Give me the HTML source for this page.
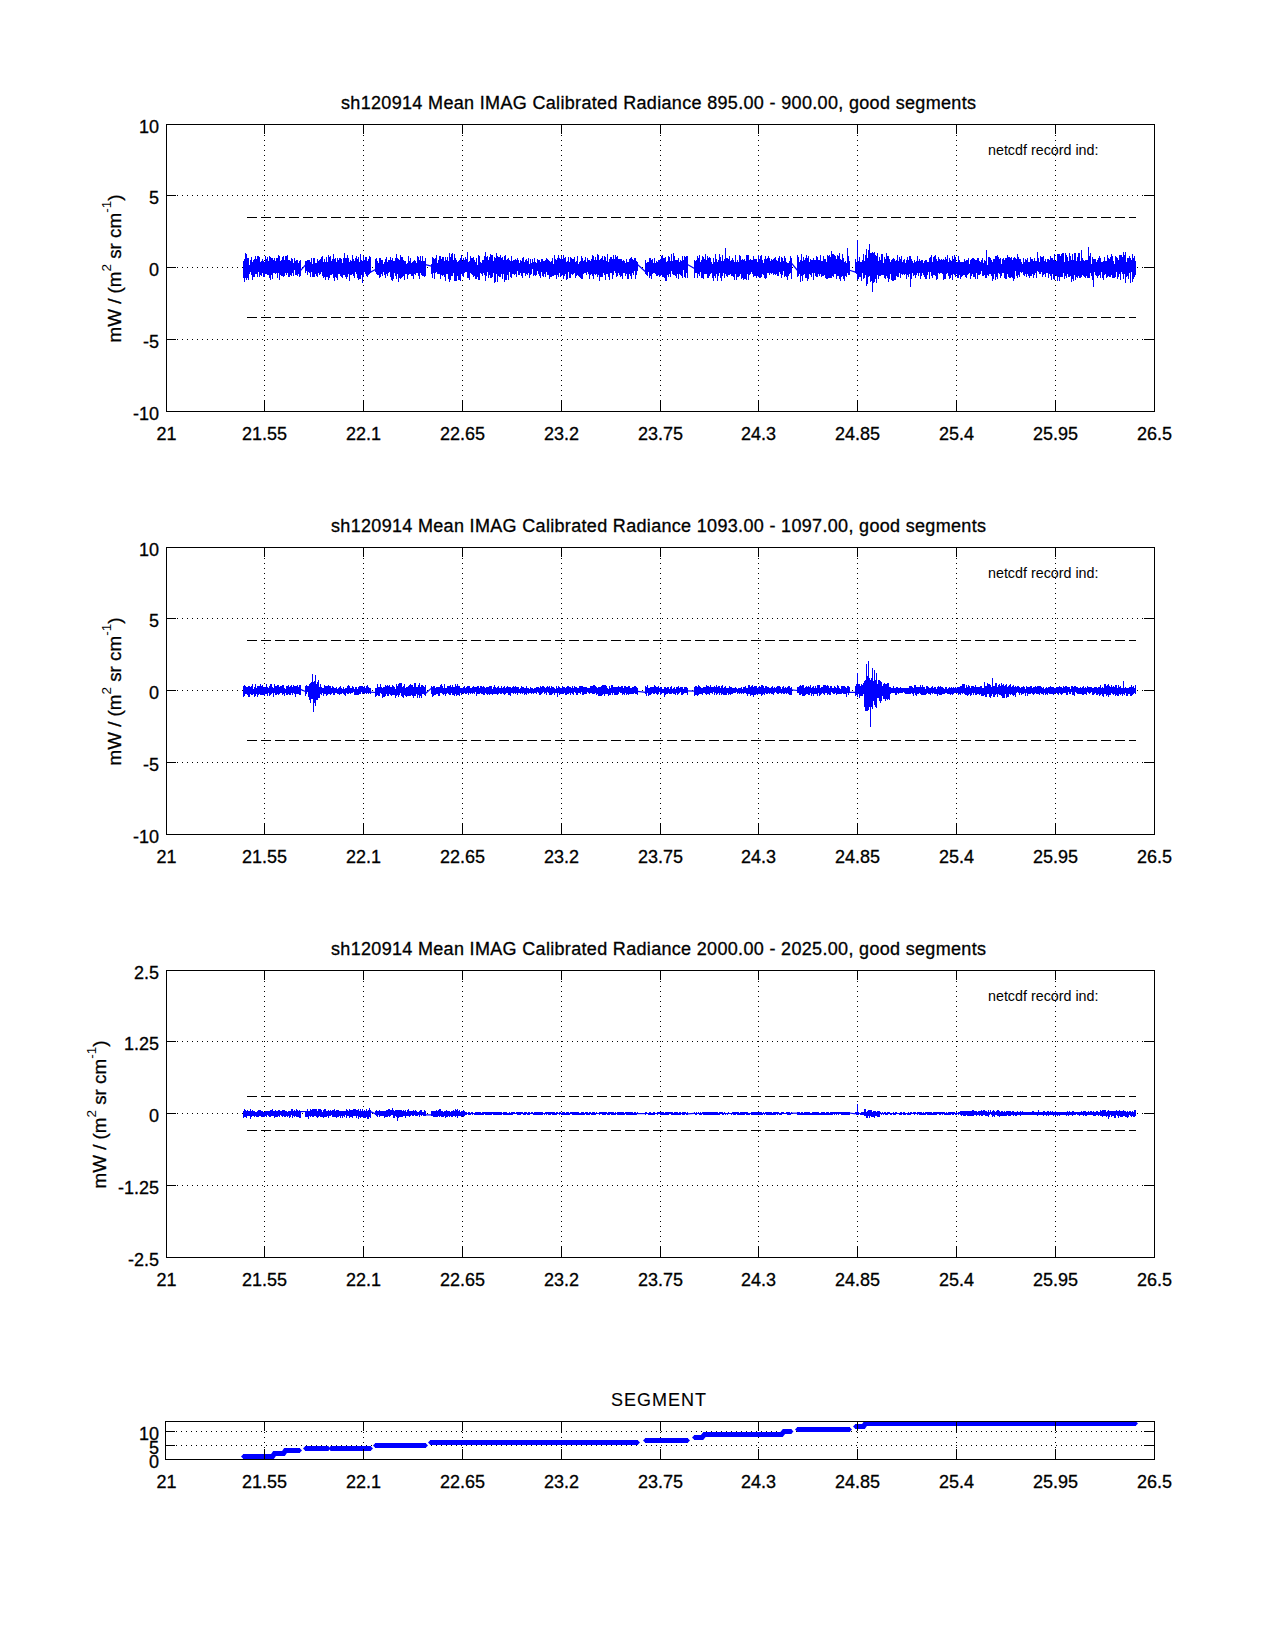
<!DOCTYPE html>
<html><head><meta charset="utf-8"><title>plot</title>
<style>
html,body{margin:0;padding:0;background:#fff;width:1275px;height:1650px;overflow:hidden}
svg{display:block}
text{font-family:"Liberation Sans",sans-serif;fill:#000;stroke:#000;stroke-width:0.3px}
</style></head><body>
<svg width="1275" height="1650" viewBox="0 0 1275 1650">
<rect x="0" y="0" width="1275" height="1650" fill="#fff"/>
<g stroke="#000" stroke-width="1" stroke-dasharray="1 4" shape-rendering="crispEdges">
<line x1="264.5" y1="125" x2="264.5" y2="411"/>
<line x1="363.5" y1="125" x2="363.5" y2="411"/>
<line x1="462.5" y1="125" x2="462.5" y2="411"/>
<line x1="561.5" y1="125" x2="561.5" y2="411"/>
<line x1="660.5" y1="125" x2="660.5" y2="411"/>
<line x1="758.5" y1="125" x2="758.5" y2="411"/>
<line x1="857.5" y1="125" x2="857.5" y2="411"/>
<line x1="956.5" y1="125" x2="956.5" y2="411"/>
<line x1="1055.5" y1="125" x2="1055.5" y2="411"/>
<line x1="167" y1="195.5" x2="1154" y2="195.5"/>
<line x1="167" y1="267.5" x2="1154" y2="267.5"/>
<line x1="167" y1="339.5" x2="1154" y2="339.5"/>
<line x1="264.5" y1="548" x2="264.5" y2="834"/>
<line x1="363.5" y1="548" x2="363.5" y2="834"/>
<line x1="462.5" y1="548" x2="462.5" y2="834"/>
<line x1="561.5" y1="548" x2="561.5" y2="834"/>
<line x1="660.5" y1="548" x2="660.5" y2="834"/>
<line x1="758.5" y1="548" x2="758.5" y2="834"/>
<line x1="857.5" y1="548" x2="857.5" y2="834"/>
<line x1="956.5" y1="548" x2="956.5" y2="834"/>
<line x1="1055.5" y1="548" x2="1055.5" y2="834"/>
<line x1="167" y1="618.5" x2="1154" y2="618.5"/>
<line x1="167" y1="690.5" x2="1154" y2="690.5"/>
<line x1="167" y1="762.5" x2="1154" y2="762.5"/>
<line x1="264.5" y1="971" x2="264.5" y2="1257"/>
<line x1="363.5" y1="971" x2="363.5" y2="1257"/>
<line x1="462.5" y1="971" x2="462.5" y2="1257"/>
<line x1="561.5" y1="971" x2="561.5" y2="1257"/>
<line x1="660.5" y1="971" x2="660.5" y2="1257"/>
<line x1="758.5" y1="971" x2="758.5" y2="1257"/>
<line x1="857.5" y1="971" x2="857.5" y2="1257"/>
<line x1="956.5" y1="971" x2="956.5" y2="1257"/>
<line x1="1055.5" y1="971" x2="1055.5" y2="1257"/>
<line x1="167" y1="1041.5" x2="1154" y2="1041.5"/>
<line x1="167" y1="1113.5" x2="1154" y2="1113.5"/>
<line x1="167" y1="1185.5" x2="1154" y2="1185.5"/>
<line x1="264.5" y1="1422" x2="264.5" y2="1459"/>
<line x1="363.5" y1="1422" x2="363.5" y2="1459"/>
<line x1="462.5" y1="1422" x2="462.5" y2="1459"/>
<line x1="561.5" y1="1422" x2="561.5" y2="1459"/>
<line x1="660.5" y1="1422" x2="660.5" y2="1459"/>
<line x1="758.5" y1="1422" x2="758.5" y2="1459"/>
<line x1="857.5" y1="1422" x2="857.5" y2="1459"/>
<line x1="956.5" y1="1422" x2="956.5" y2="1459"/>
<line x1="1055.5" y1="1422" x2="1055.5" y2="1459"/>
<line x1="166" y1="1431.5" x2="1154" y2="1431.5"/>
<line x1="166" y1="1445.5" x2="1154" y2="1445.5"/>
</g>
<g stroke="#000" stroke-width="1" stroke-dasharray="10 4" shape-rendering="crispEdges">
<line x1="247" y1="217.5" x2="1136" y2="217.5"/>
<line x1="247" y1="317.5" x2="1136" y2="317.5"/>
<line x1="247" y1="640.5" x2="1136" y2="640.5"/>
<line x1="247" y1="740.5" x2="1136" y2="740.5"/>
<line x1="247" y1="1096.5" x2="1136" y2="1096.5"/>
<line x1="247" y1="1130.5" x2="1136" y2="1130.5"/>
</g>
<path fill="#0000ff" shape-rendering="crispEdges" d="M243 261h1V278h-1zM244 259h1V282h-1zM245 253h1V278h-1zM246 254h1V280h-1zM247 258h1V278h-1zM248 258h1V280h-1zM249 265h1V274h-1zM250 260h1V272h-1zM251 257h1V275h-1zM252 262h1V280h-1zM253 260h1V277h-1zM254 259h1V277h-1zM255 256h1V274h-1zM256 259h1V274h-1zM257 256h1V277h-1zM258 256h1V272h-1zM259 257h1V277h-1zM260 262h1V275h-1zM261 261h1V276h-1zM262 259h1V273h-1zM263 261h1V277h-1zM264 262h1V277h-1zM265 256h1V274h-1zM266 259h1V274h-1zM267 257h1V275h-1zM268 261h1V275h-1zM269 256h1V278h-1zM270 257h1V280h-1zM271 258h1V275h-1zM272 258h1V279h-1zM273 260h1V273h-1zM274 258h1V273h-1zM275 261h1V274h-1zM276 258h1V273h-1zM277 258h1V278h-1zM278 255h1V273h-1zM279 256h1V280h-1zM280 261h1V275h-1zM281 260h1V276h-1zM282 257h1V276h-1zM283 256h1V277h-1zM284 260h1V276h-1zM285 256h1V273h-1zM286 256h1V275h-1zM287 255h1V273h-1zM288 260h1V277h-1zM289 260h1V277h-1zM290 261h1V275h-1zM291 258h1V276h-1zM292 259h1V273h-1zM293 263h1V276h-1zM294 258h1V270h-1zM295 261h1V275h-1zM296 260h1V275h-1zM297 260h1V276h-1zM298 263h1V274h-1zM299 261h1V277h-1zM300 260h1V276h-1zM305 261h1V273h-1zM306 261h1V271h-1zM307 260h1V275h-1zM308 260h1V272h-1zM309 260h1V273h-1zM310 262h1V277h-1zM311 258h1V272h-1zM312 264h1V277h-1zM313 258h1V277h-1zM314 258h1V277h-1zM315 263h1V274h-1zM316 263h1V276h-1zM317 259h1V277h-1zM318 261h1V273h-1zM319 260h1V275h-1zM320 259h1V274h-1zM321 257h1V272h-1zM322 256h1V276h-1zM323 262h1V278h-1zM324 259h1V277h-1zM325 262h1V280h-1zM326 257h1V277h-1zM327 262h1V277h-1zM328 255h1V280h-1zM329 257h1V278h-1zM330 256h1V275h-1zM331 261h1V275h-1zM332 259h1V274h-1zM333 254h1V278h-1zM334 259h1V281h-1zM335 258h1V277h-1zM336 262h1V278h-1zM337 258h1V280h-1zM338 260h1V274h-1zM339 258h1V274h-1zM340 258h1V276h-1zM341 259h1V277h-1zM342 263h1V278h-1zM343 258h1V275h-1zM344 253h1V275h-1zM345 258h1V277h-1zM346 258h1V279h-1zM347 255h1V277h-1zM348 258h1V274h-1zM349 262h1V281h-1zM350 260h1V275h-1zM351 261h1V275h-1zM352 255h1V274h-1zM353 259h1V276h-1zM354 261h1V278h-1zM355 258h1V272h-1zM356 256h1V274h-1zM357 259h1V278h-1zM358 257h1V280h-1zM359 262h1V279h-1zM360 254h1V279h-1zM361 260h1V275h-1zM362 261h1V283h-1zM363 256h1V277h-1zM364 260h1V272h-1zM365 257h1V274h-1zM366 257h1V276h-1zM367 261h1V277h-1zM368 259h1V275h-1zM369 256h1V274h-1zM370 257h1V273h-1zM375 259h1V272h-1zM376 258h1V274h-1zM377 261h1V275h-1zM378 263h1V275h-1zM379 258h1V278h-1zM380 258h1V277h-1zM381 260h1V274h-1zM382 260h1V276h-1zM383 264h1V272h-1zM384 262h1V275h-1zM385 259h1V278h-1zM386 257h1V274h-1zM387 262h1V276h-1zM388 260h1V273h-1zM389 260h1V272h-1zM390 257h1V277h-1zM391 260h1V280h-1zM392 258h1V281h-1zM393 261h1V279h-1zM394 261h1V273h-1zM395 258h1V276h-1zM396 254h1V279h-1zM397 258h1V274h-1zM398 259h1V282h-1zM399 260h1V278h-1zM400 255h1V279h-1zM401 257h1V278h-1zM402 257h1V277h-1zM403 260h1V276h-1zM404 261h1V280h-1zM405 261h1V274h-1zM406 264h1V274h-1zM407 263h1V279h-1zM408 256h1V275h-1zM409 261h1V274h-1zM410 258h1V274h-1zM411 263h1V276h-1zM412 262h1V276h-1zM413 261h1V279h-1zM414 260h1V274h-1zM415 261h1V275h-1zM416 263h1V273h-1zM417 256h1V273h-1zM418 257h1V276h-1zM419 260h1V279h-1zM420 256h1V273h-1zM421 261h1V275h-1zM422 256h1V276h-1zM423 261h1V276h-1zM424 261h1V277h-1zM425 258h1V276h-1zM431 264h1V274h-1zM432 257h1V278h-1zM433 258h1V273h-1zM434 259h1V279h-1zM435 258h1V273h-1zM436 255h1V272h-1zM437 263h1V274h-1zM438 260h1V274h-1zM439 256h1V274h-1zM440 256h1V279h-1zM441 259h1V275h-1zM442 257h1V276h-1zM443 257h1V275h-1zM444 261h1V277h-1zM445 257h1V281h-1zM446 260h1V274h-1zM447 257h1V274h-1zM448 261h1V279h-1zM449 253h1V282h-1zM450 257h1V280h-1zM451 254h1V276h-1zM452 253h1V276h-1zM453 260h1V273h-1zM454 254h1V281h-1zM455 258h1V281h-1zM456 260h1V281h-1zM457 262h1V276h-1zM458 261h1V280h-1zM459 260h1V280h-1zM460 258h1V281h-1zM461 255h1V274h-1zM462 261h1V276h-1zM463 258h1V277h-1zM464 260h1V273h-1zM465 257h1V272h-1zM466 259h1V272h-1zM467 252h1V278h-1zM468 262h1V278h-1zM469 261h1V280h-1zM470 256h1V273h-1zM471 258h1V274h-1zM472 258h1V275h-1zM473 257h1V277h-1zM474 260h1V276h-1zM475 262h1V279h-1zM476 258h1V279h-1zM477 265h1V277h-1zM478 255h1V280h-1zM479 256h1V280h-1zM480 262h1V273h-1zM481 263h1V274h-1zM482 260h1V276h-1zM483 260h1V273h-1zM484 256h1V275h-1zM485 252h1V281h-1zM486 257h1V276h-1zM487 256h1V272h-1zM488 260h1V278h-1zM489 257h1V275h-1zM490 254h1V278h-1zM491 255h1V278h-1zM492 255h1V277h-1zM493 261h1V273h-1zM494 257h1V283h-1zM495 258h1V282h-1zM496 253h1V274h-1zM497 256h1V282h-1zM498 257h1V276h-1zM499 257h1V277h-1zM500 255h1V277h-1zM501 258h1V274h-1zM502 257h1V279h-1zM503 260h1V274h-1zM504 256h1V282h-1zM505 255h1V280h-1zM506 260h1V280h-1zM507 259h1V275h-1zM508 258h1V280h-1zM509 260h1V272h-1zM510 261h1V277h-1zM511 256h1V278h-1zM512 261h1V274h-1zM513 260h1V274h-1zM514 260h1V275h-1zM515 259h1V274h-1zM516 260h1V277h-1zM517 258h1V271h-1zM518 260h1V275h-1zM519 263h1V275h-1zM520 260h1V273h-1zM521 261h1V276h-1zM522 258h1V278h-1zM523 257h1V273h-1zM524 262h1V273h-1zM525 260h1V276h-1zM526 259h1V274h-1zM527 261h1V275h-1zM528 258h1V273h-1zM529 264h1V278h-1zM530 259h1V275h-1zM531 263h1V274h-1zM532 259h1V269h-1zM533 262h1V276h-1zM534 258h1V275h-1zM535 262h1V276h-1zM536 263h1V275h-1zM537 259h1V271h-1zM538 260h1V274h-1zM539 260h1V276h-1zM540 262h1V278h-1zM541 259h1V272h-1zM542 259h1V276h-1zM543 261h1V277h-1zM544 261h1V274h-1zM545 260h1V277h-1zM546 258h1V272h-1zM547 259h1V275h-1zM548 260h1V275h-1zM549 261h1V279h-1zM550 262h1V277h-1zM551 261h1V277h-1zM552 258h1V276h-1zM553 264h1V276h-1zM554 255h1V275h-1zM555 259h1V275h-1zM556 260h1V279h-1zM557 258h1V275h-1zM558 255h1V277h-1zM559 258h1V273h-1zM560 259h1V277h-1zM561 256h1V276h-1zM562 259h1V275h-1zM563 255h1V279h-1zM564 258h1V276h-1zM565 257h1V274h-1zM566 262h1V280h-1zM567 261h1V279h-1zM568 257h1V272h-1zM569 262h1V278h-1zM570 257h1V278h-1zM571 258h1V274h-1zM572 259h1V275h-1zM573 259h1V274h-1zM574 257h1V273h-1zM575 262h1V278h-1zM576 261h1V276h-1zM577 256h1V275h-1zM578 264h1V276h-1zM579 262h1V277h-1zM580 261h1V278h-1zM581 256h1V279h-1zM582 258h1V279h-1zM583 261h1V274h-1zM584 260h1V273h-1zM585 257h1V273h-1zM586 262h1V275h-1zM587 258h1V272h-1zM588 260h1V274h-1zM589 260h1V279h-1zM590 261h1V275h-1zM591 259h1V274h-1zM592 255h1V276h-1zM593 256h1V279h-1zM594 260h1V274h-1zM595 257h1V275h-1zM596 260h1V274h-1zM597 254h1V277h-1zM598 255h1V275h-1zM599 260h1V281h-1zM600 259h1V277h-1zM601 258h1V277h-1zM602 256h1V277h-1zM603 260h1V273h-1zM604 256h1V275h-1zM605 257h1V280h-1zM606 261h1V274h-1zM607 254h1V274h-1zM608 262h1V277h-1zM609 259h1V280h-1zM610 257h1V273h-1zM611 257h1V273h-1zM612 259h1V279h-1zM613 255h1V275h-1zM614 259h1V271h-1zM615 255h1V273h-1zM616 257h1V277h-1zM617 256h1V276h-1zM618 259h1V273h-1zM619 259h1V275h-1zM620 259h1V277h-1zM621 259h1V276h-1zM622 261h1V279h-1zM623 260h1V273h-1zM624 261h1V273h-1zM625 263h1V276h-1zM626 259h1V274h-1zM627 262h1V279h-1zM628 262h1V279h-1zM629 259h1V274h-1zM630 258h1V276h-1zM631 257h1V279h-1zM632 259h1V273h-1zM633 260h1V275h-1zM634 258h1V271h-1zM635 258h1V279h-1zM636 261h1V275h-1zM637 262h1V271h-1zM645 260h1V274h-1zM646 263h1V275h-1zM647 262h1V276h-1zM648 262h1V272h-1zM649 258h1V278h-1zM650 258h1V276h-1zM651 260h1V279h-1zM652 259h1V274h-1zM653 263h1V273h-1zM654 258h1V273h-1zM655 263h1V274h-1zM656 261h1V276h-1zM657 262h1V276h-1zM658 260h1V275h-1zM659 260h1V277h-1zM660 259h1V276h-1zM661 256h1V275h-1zM662 255h1V277h-1zM663 258h1V277h-1zM664 258h1V278h-1zM665 257h1V281h-1zM666 262h1V281h-1zM667 261h1V275h-1zM668 256h1V277h-1zM669 257h1V274h-1zM670 261h1V277h-1zM671 254h1V271h-1zM672 261h1V274h-1zM673 253h1V275h-1zM674 256h1V275h-1zM675 260h1V276h-1zM676 260h1V278h-1zM677 260h1V274h-1zM678 258h1V279h-1zM679 262h1V274h-1zM680 260h1V275h-1zM681 261h1V276h-1zM682 256h1V278h-1zM683 260h1V270h-1zM684 256h1V277h-1zM685 257h1V278h-1zM686 256h1V273h-1zM687 256h1V278h-1zM694 260h1V278h-1zM695 261h1V273h-1zM696 260h1V273h-1zM697 256h1V278h-1zM698 258h1V274h-1zM699 255h1V276h-1zM700 262h1V272h-1zM701 260h1V278h-1zM702 256h1V278h-1zM703 257h1V279h-1zM704 259h1V274h-1zM705 254h1V274h-1zM706 260h1V274h-1zM707 256h1V278h-1zM708 258h1V278h-1zM709 257h1V276h-1zM710 258h1V274h-1zM711 262h1V273h-1zM712 264h1V278h-1zM713 258h1V281h-1zM714 262h1V276h-1zM715 254h1V278h-1zM716 259h1V274h-1zM717 262h1V281h-1zM718 260h1V276h-1zM719 254h1V273h-1zM720 257h1V278h-1zM721 261h1V281h-1zM722 255h1V276h-1zM723 261h1V273h-1zM724 259h1V278h-1zM725 248h1V274h-1zM726 258h1V276h-1zM727 258h1V277h-1zM728 259h1V275h-1zM729 256h1V275h-1zM730 261h1V274h-1zM731 260h1V276h-1zM732 258h1V276h-1zM733 260h1V277h-1zM734 262h1V280h-1zM735 255h1V274h-1zM736 262h1V280h-1zM737 260h1V277h-1zM738 262h1V277h-1zM739 255h1V276h-1zM740 256h1V274h-1zM741 260h1V279h-1zM742 259h1V278h-1zM743 260h1V280h-1zM744 259h1V279h-1zM745 261h1V279h-1zM746 255h1V280h-1zM747 255h1V274h-1zM748 255h1V280h-1zM749 260h1V275h-1zM750 259h1V274h-1zM751 260h1V272h-1zM752 260h1V274h-1zM753 256h1V277h-1zM754 259h1V276h-1zM755 259h1V276h-1zM756 259h1V278h-1zM757 262h1V276h-1zM758 255h1V277h-1zM759 259h1V278h-1zM760 256h1V278h-1zM761 255h1V277h-1zM762 260h1V274h-1zM763 263h1V275h-1zM764 259h1V278h-1zM765 256h1V279h-1zM766 259h1V278h-1zM767 258h1V273h-1zM768 256h1V273h-1zM769 258h1V275h-1zM770 261h1V273h-1zM771 259h1V274h-1zM772 260h1V273h-1zM773 259h1V275h-1zM774 258h1V274h-1zM775 257h1V275h-1zM776 260h1V274h-1zM777 261h1V276h-1zM778 258h1V276h-1zM779 256h1V272h-1zM780 262h1V274h-1zM781 257h1V278h-1zM782 258h1V275h-1zM783 261h1V271h-1zM784 256h1V277h-1zM785 258h1V276h-1zM786 262h1V277h-1zM787 263h1V280h-1zM788 263h1V276h-1zM789 261h1V274h-1zM790 256h1V273h-1zM791 258h1V279h-1zM797 255h1V277h-1zM798 257h1V276h-1zM799 262h1V274h-1zM800 260h1V282h-1zM801 254h1V276h-1zM802 261h1V281h-1zM803 257h1V275h-1zM804 260h1V274h-1zM805 258h1V278h-1zM806 255h1V278h-1zM807 258h1V281h-1zM808 256h1V279h-1zM809 262h1V274h-1zM810 259h1V275h-1zM811 260h1V277h-1zM812 260h1V273h-1zM813 258h1V280h-1zM814 260h1V273h-1zM815 260h1V276h-1zM816 256h1V277h-1zM817 257h1V277h-1zM818 260h1V274h-1zM819 260h1V276h-1zM820 255h1V274h-1zM821 261h1V277h-1zM822 261h1V276h-1zM823 256h1V276h-1zM824 259h1V275h-1zM825 259h1V278h-1zM826 262h1V279h-1zM827 255h1V279h-1zM828 256h1V278h-1zM829 255h1V278h-1zM830 257h1V278h-1zM831 251h1V278h-1zM832 254h1V276h-1zM833 254h1V277h-1zM834 255h1V274h-1zM835 256h1V274h-1zM836 259h1V279h-1zM837 255h1V276h-1zM838 256h1V276h-1zM839 253h1V279h-1zM840 259h1V281h-1zM841 260h1V277h-1zM842 254h1V276h-1zM843 258h1V279h-1zM844 262h1V281h-1zM845 261h1V276h-1zM846 263h1V277h-1zM847 248h1V273h-1zM848 256h1V275h-1zM849 261h1V275h-1zM855 259h1V273h-1zM856 262h1V274h-1zM857 240h1V280h-1zM858 261h1V279h-1zM859 257h1V277h-1zM860 262h1V277h-1zM861 262h1V281h-1zM862 260h1V273h-1zM863 254h1V279h-1zM864 261h1V278h-1zM865 255h1V275h-1zM866 249h1V286h-1zM867 258h1V284h-1zM868 250h1V277h-1zM869 244h1V276h-1zM870 253h1V282h-1zM871 253h1V281h-1zM872 252h1V292h-1zM873 253h1V283h-1zM874 252h1V282h-1zM875 255h1V279h-1zM876 256h1V283h-1zM877 253h1V275h-1zM878 261h1V279h-1zM879 257h1V276h-1zM880 260h1V276h-1zM881 254h1V275h-1zM882 254h1V275h-1zM883 263h1V275h-1zM884 257h1V278h-1zM885 259h1V279h-1zM886 253h1V276h-1zM887 256h1V278h-1zM888 256h1V282h-1zM889 259h1V279h-1zM890 262h1V274h-1zM891 260h1V280h-1zM892 259h1V281h-1zM893 258h1V281h-1zM894 259h1V280h-1zM895 261h1V280h-1zM896 260h1V276h-1zM897 255h1V277h-1zM898 261h1V277h-1zM899 257h1V273h-1zM900 259h1V278h-1zM901 256h1V274h-1zM902 262h1V275h-1zM903 260h1V274h-1zM904 259h1V275h-1zM905 263h1V274h-1zM906 260h1V279h-1zM907 257h1V275h-1zM908 260h1V277h-1zM909 256h1V274h-1zM910 256h1V287h-1zM911 259h1V279h-1zM912 261h1V273h-1zM913 263h1V276h-1zM914 260h1V275h-1zM915 262h1V278h-1zM916 261h1V275h-1zM917 256h1V273h-1zM918 261h1V276h-1zM919 259h1V273h-1zM920 261h1V279h-1zM921 260h1V276h-1zM922 260h1V273h-1zM923 263h1V275h-1zM924 261h1V277h-1zM925 260h1V279h-1zM926 260h1V279h-1zM927 262h1V275h-1zM928 262h1V272h-1zM929 258h1V279h-1zM930 257h1V272h-1zM931 255h1V276h-1zM932 262h1V278h-1zM933 257h1V275h-1zM934 256h1V275h-1zM935 255h1V276h-1zM936 259h1V280h-1zM937 261h1V279h-1zM938 257h1V273h-1zM939 259h1V274h-1zM940 260h1V273h-1zM941 259h1V273h-1zM942 260h1V274h-1zM943 259h1V280h-1zM944 260h1V279h-1zM945 257h1V279h-1zM946 259h1V274h-1zM947 255h1V273h-1zM948 262h1V276h-1zM949 258h1V279h-1zM950 260h1V278h-1zM951 261h1V275h-1zM952 256h1V280h-1zM953 259h1V274h-1zM954 255h1V275h-1zM955 257h1V277h-1zM956 262h1V274h-1zM957 262h1V278h-1zM958 256h1V278h-1zM959 260h1V275h-1zM960 262h1V279h-1zM961 262h1V277h-1zM962 262h1V276h-1zM963 262h1V275h-1zM964 259h1V275h-1zM965 261h1V277h-1zM966 260h1V278h-1zM967 260h1V275h-1zM968 258h1V274h-1zM969 264h1V273h-1zM970 260h1V279h-1zM971 259h1V276h-1zM972 258h1V274h-1zM973 258h1V277h-1zM974 259h1V277h-1zM975 260h1V279h-1zM976 260h1V273h-1zM977 258h1V279h-1zM978 258h1V275h-1zM979 261h1V275h-1zM980 262h1V274h-1zM981 260h1V271h-1zM982 258h1V276h-1zM983 263h1V276h-1zM984 260h1V275h-1zM985 261h1V278h-1zM986 250h1V278h-1zM987 265h1V275h-1zM988 257h1V276h-1zM989 257h1V274h-1zM990 258h1V274h-1zM991 260h1V276h-1zM992 262h1V281h-1zM993 259h1V279h-1zM994 259h1V274h-1zM995 256h1V280h-1zM996 256h1V277h-1zM997 255h1V279h-1zM998 257h1V273h-1zM999 259h1V274h-1zM1000 258h1V278h-1zM1001 264h1V276h-1zM1002 259h1V273h-1zM1003 258h1V273h-1zM1004 260h1V278h-1zM1005 258h1V279h-1zM1006 258h1V279h-1zM1007 255h1V274h-1zM1008 257h1V277h-1zM1009 257h1V278h-1zM1010 258h1V278h-1zM1011 257h1V277h-1zM1012 260h1V278h-1zM1013 258h1V281h-1zM1014 257h1V279h-1zM1015 258h1V271h-1zM1016 259h1V276h-1zM1017 254h1V278h-1zM1018 257h1V275h-1zM1019 259h1V277h-1zM1020 259h1V272h-1zM1021 262h1V273h-1zM1022 264h1V272h-1zM1023 258h1V275h-1zM1024 262h1V276h-1zM1025 259h1V274h-1zM1026 260h1V277h-1zM1027 258h1V274h-1zM1028 262h1V276h-1zM1029 262h1V278h-1zM1030 257h1V276h-1zM1031 259h1V276h-1zM1032 259h1V274h-1zM1033 261h1V278h-1zM1034 258h1V275h-1zM1035 261h1V273h-1zM1036 261h1V278h-1zM1037 252h1V271h-1zM1038 258h1V272h-1zM1039 262h1V274h-1zM1040 256h1V274h-1zM1041 257h1V272h-1zM1042 257h1V277h-1zM1043 256h1V275h-1zM1044 261h1V274h-1zM1045 259h1V277h-1zM1046 262h1V273h-1zM1047 259h1V273h-1zM1048 259h1V278h-1zM1049 260h1V274h-1zM1050 256h1V276h-1zM1051 258h1V280h-1zM1052 258h1V274h-1zM1053 260h1V279h-1zM1054 254h1V280h-1zM1055 261h1V275h-1zM1056 261h1V276h-1zM1057 254h1V281h-1zM1058 254h1V277h-1zM1059 254h1V281h-1zM1060 256h1V277h-1zM1061 254h1V277h-1zM1062 253h1V277h-1zM1063 253h1V273h-1zM1064 262h1V279h-1zM1065 253h1V276h-1zM1066 255h1V278h-1zM1067 257h1V274h-1zM1068 261h1V277h-1zM1069 253h1V277h-1zM1070 256h1V276h-1zM1071 260h1V282h-1zM1072 254h1V279h-1zM1073 260h1V281h-1zM1074 253h1V275h-1zM1075 253h1V280h-1zM1076 261h1V277h-1zM1077 257h1V278h-1zM1078 253h1V276h-1zM1079 253h1V278h-1zM1080 261h1V278h-1zM1081 250h1V277h-1zM1082 258h1V275h-1zM1083 260h1V276h-1zM1084 261h1V277h-1zM1085 260h1V278h-1zM1086 260h1V276h-1zM1087 260h1V278h-1zM1088 247h1V278h-1zM1089 256h1V278h-1zM1090 253h1V273h-1zM1091 264h1V276h-1zM1092 257h1V280h-1zM1093 259h1V287h-1zM1094 259h1V272h-1zM1095 259h1V275h-1zM1096 262h1V276h-1zM1097 260h1V278h-1zM1098 258h1V276h-1zM1099 256h1V275h-1zM1100 258h1V278h-1zM1101 262h1V272h-1zM1102 262h1V278h-1zM1103 261h1V280h-1zM1104 257h1V275h-1zM1105 261h1V274h-1zM1106 261h1V278h-1zM1107 255h1V277h-1zM1108 258h1V276h-1zM1109 259h1V277h-1zM1110 257h1V277h-1zM1111 254h1V275h-1zM1112 256h1V278h-1zM1113 261h1V278h-1zM1114 264h1V278h-1zM1115 256h1V277h-1zM1116 257h1V272h-1zM1117 258h1V279h-1zM1118 260h1V277h-1zM1119 255h1V274h-1zM1120 255h1V280h-1zM1121 255h1V272h-1zM1122 257h1V274h-1zM1123 252h1V279h-1zM1124 255h1V274h-1zM1125 252h1V283h-1zM1126 262h1V277h-1zM1127 258h1V276h-1zM1128 258h1V279h-1zM1129 256h1V273h-1zM1130 258h1V283h-1zM1131 260h1V272h-1zM1132 254h1V282h-1zM1133 258h1V279h-1zM1134 256h1V277h-1zM1135 261h1V275h-1z"/>
<line x1="300.5" y1="270.7" x2="305.5" y2="264.9" stroke="#0000ff" stroke-width="1.2"/>
<line x1="370.5" y1="272.1" x2="375.5" y2="269.5" stroke="#0000ff" stroke-width="1.2"/>
<line x1="425.5" y1="264.6" x2="431.5" y2="266.2" stroke="#0000ff" stroke-width="1.2"/>
<line x1="637.5" y1="264.5" x2="645.5" y2="271.7" stroke="#0000ff" stroke-width="1.2"/>
<line x1="687.5" y1="264.5" x2="694.5" y2="268.4" stroke="#0000ff" stroke-width="1.2"/>
<line x1="791.5" y1="263.2" x2="797.5" y2="270.5" stroke="#0000ff" stroke-width="1.2"/>
<line x1="849.5" y1="270.3" x2="855.5" y2="272.1" stroke="#0000ff" stroke-width="1.2"/>
<line x1="863.5" y1="273.3" x2="864.5" y2="272.4" stroke="#0000ff" stroke-width="1.2"/>
<path fill="#0000ff" shape-rendering="crispEdges" d="M243 686h1V697h-1zM244 685h1V696h-1zM245 686h1V694h-1zM246 687h1V694h-1zM247 687h1V695h-1zM248 686h1V697h-1zM249 686h1V697h-1zM250 687h1V694h-1zM251 686h1V695h-1zM252 684h1V695h-1zM253 689h1V694h-1zM254 687h1V697h-1zM255 684h1V696h-1zM256 688h1V694h-1zM257 686h1V697h-1zM258 686h1V695h-1zM259 686h1V694h-1zM260 684h1V695h-1zM261 686h1V695h-1zM262 685h1V695h-1zM263 687h1V695h-1zM264 687h1V696h-1zM265 687h1V694h-1zM266 684h1V694h-1zM267 687h1V696h-1zM268 688h1V693h-1zM269 686h1V696h-1zM270 684h1V695h-1zM271 684h1V694h-1zM272 687h1V693h-1zM273 688h1V697h-1zM274 684h1V693h-1zM275 686h1V695h-1zM276 686h1V695h-1zM277 685h1V694h-1zM278 685h1V695h-1zM279 687h1V694h-1zM280 686h1V693h-1zM281 686h1V693h-1zM282 685h1V695h-1zM283 685h1V694h-1zM284 688h1V696h-1zM285 689h1V693h-1zM286 686h1V695h-1zM287 686h1V695h-1zM288 685h1V694h-1zM289 687h1V695h-1zM290 686h1V695h-1zM291 685h1V693h-1zM292 687h1V695h-1zM293 685h1V693h-1zM294 686h1V694h-1zM295 686h1V697h-1zM296 686h1V694h-1zM297 685h1V694h-1zM298 687h1V694h-1zM299 685h1V695h-1zM300 685h1V695h-1zM305 686h1V696h-1zM306 685h1V694h-1zM307 686h1V692h-1zM308 686h1V697h-1zM309 684h1V700h-1zM310 683h1V703h-1zM311 682h1V699h-1zM312 674h1V699h-1zM313 682h1V712h-1zM314 681h1V703h-1zM315 675h1V706h-1zM316 684h1V700h-1zM317 682h1V700h-1zM318 680h1V698h-1zM319 687h1V698h-1zM320 684h1V694h-1zM321 687h1V695h-1zM322 688h1V693h-1zM323 688h1V696h-1zM324 685h1V694h-1zM325 686h1V694h-1zM326 686h1V696h-1zM327 686h1V695h-1zM328 685h1V694h-1zM329 686h1V694h-1zM330 686h1V695h-1zM331 688h1V694h-1zM332 686h1V693h-1zM333 687h1V695h-1zM334 688h1V695h-1zM335 688h1V693h-1zM336 687h1V693h-1zM337 689h1V694h-1zM338 688h1V694h-1zM339 687h1V695h-1zM340 686h1V694h-1zM341 688h1V694h-1zM342 689h1V693h-1zM343 687h1V694h-1zM344 689h1V695h-1zM345 688h1V696h-1zM346 688h1V693h-1zM347 686h1V694h-1zM348 685h1V694h-1zM349 686h1V693h-1zM350 688h1V694h-1zM351 688h1V693h-1zM352 686h1V693h-1zM353 687h1V692h-1zM354 689h1V695h-1zM355 687h1V695h-1zM356 687h1V695h-1zM357 689h1V695h-1zM358 687h1V695h-1zM359 686h1V694h-1zM360 686h1V694h-1zM361 686h1V692h-1zM362 686h1V694h-1zM363 687h1V693h-1zM364 686h1V694h-1zM365 688h1V693h-1zM366 686h1V694h-1zM367 685h1V693h-1zM368 687h1V694h-1zM369 688h1V693h-1zM370 688h1V694h-1zM375 688h1V697h-1zM376 688h1V696h-1zM377 684h1V695h-1zM378 687h1V696h-1zM379 687h1V696h-1zM380 684h1V693h-1zM381 687h1V694h-1zM382 688h1V698h-1zM383 687h1V697h-1zM384 687h1V697h-1zM385 685h1V696h-1zM386 686h1V694h-1zM387 685h1V696h-1zM388 686h1V696h-1zM389 685h1V694h-1zM390 687h1V695h-1zM391 687h1V696h-1zM392 685h1V695h-1zM393 686h1V695h-1zM394 687h1V695h-1zM395 689h1V698h-1zM396 684h1V696h-1zM397 686h1V695h-1zM398 684h1V697h-1zM399 683h1V695h-1zM400 683h1V693h-1zM401 683h1V696h-1zM402 687h1V697h-1zM403 686h1V698h-1zM404 684h1V695h-1zM405 688h1V696h-1zM406 687h1V697h-1zM407 687h1V696h-1zM408 686h1V696h-1zM409 685h1V696h-1zM410 684h1V696h-1zM411 685h1V695h-1zM412 685h1V696h-1zM413 687h1V698h-1zM414 683h1V696h-1zM415 683h1V696h-1zM416 687h1V694h-1zM417 687h1V698h-1zM418 685h1V695h-1zM419 683h1V698h-1zM420 687h1V696h-1zM421 685h1V698h-1zM422 685h1V694h-1zM423 686h1V694h-1zM424 687h1V695h-1zM425 685h1V696h-1zM431 686h1V694h-1zM432 687h1V697h-1zM433 686h1V696h-1zM434 686h1V695h-1zM435 688h1V695h-1zM436 687h1V694h-1zM437 687h1V694h-1zM438 687h1V696h-1zM439 687h1V696h-1zM440 685h1V693h-1zM441 684h1V693h-1zM442 686h1V694h-1zM443 688h1V695h-1zM444 684h1V694h-1zM445 688h1V696h-1zM446 688h1V694h-1zM447 686h1V693h-1zM448 686h1V694h-1zM449 686h1V695h-1zM450 685h1V695h-1zM451 687h1V693h-1zM452 685h1V695h-1zM453 687h1V695h-1zM454 687h1V696h-1zM455 684h1V694h-1zM456 686h1V696h-1zM457 684h1V695h-1zM458 686h1V695h-1zM459 686h1V696h-1zM460 688h1V693h-1zM461 688h1V695h-1zM462 688h1V693h-1zM463 687h1V694h-1zM464 686h1V693h-1zM465 688h1V694h-1zM466 687h1V694h-1zM467 686h1V693h-1zM468 686h1V695h-1zM469 686h1V693h-1zM470 688h1V694h-1zM471 688h1V693h-1zM472 687h1V694h-1zM473 686h1V693h-1zM474 687h1V694h-1zM475 687h1V692h-1zM476 687h1V696h-1zM477 686h1V694h-1zM478 686h1V694h-1zM479 688h1V694h-1zM480 686h1V693h-1zM481 686h1V694h-1zM482 687h1V694h-1zM483 686h1V695h-1zM484 687h1V695h-1zM485 688h1V693h-1zM486 687h1V694h-1zM487 687h1V695h-1zM488 687h1V694h-1zM489 686h1V695h-1zM490 686h1V694h-1zM491 686h1V694h-1zM492 689h1V695h-1zM493 687h1V694h-1zM494 685h1V694h-1zM495 687h1V694h-1zM496 688h1V694h-1zM497 687h1V695h-1zM498 686h1V694h-1zM499 688h1V693h-1zM500 688h1V694h-1zM501 686h1V694h-1zM502 688h1V693h-1zM503 687h1V694h-1zM504 686h1V695h-1zM505 688h1V694h-1zM506 687h1V693h-1zM507 686h1V693h-1zM508 687h1V695h-1zM509 687h1V695h-1zM510 687h1V696h-1zM511 688h1V693h-1zM512 687h1V693h-1zM513 686h1V694h-1zM514 687h1V693h-1zM515 686h1V694h-1zM516 687h1V693h-1zM517 687h1V695h-1zM518 687h1V693h-1zM519 689h1V693h-1zM520 688h1V694h-1zM521 686h1V693h-1zM522 687h1V694h-1zM523 687h1V693h-1zM524 688h1V695h-1zM525 688h1V694h-1zM526 686h1V695h-1zM527 688h1V693h-1zM528 688h1V694h-1zM529 689h1V693h-1zM530 687h1V693h-1zM531 688h1V694h-1zM532 688h1V693h-1zM533 689h1V694h-1zM534 688h1V693h-1zM535 688h1V693h-1zM536 687h1V694h-1zM537 687h1V692h-1zM538 687h1V693h-1zM539 688h1V695h-1zM540 686h1V695h-1zM541 687h1V694h-1zM542 686h1V693h-1zM543 686h1V692h-1zM544 687h1V694h-1zM545 688h1V693h-1zM546 687h1V695h-1zM547 686h1V692h-1zM548 687h1V693h-1zM549 686h1V695h-1zM550 688h1V695h-1zM551 686h1V695h-1zM552 687h1V694h-1zM553 687h1V693h-1zM554 688h1V695h-1zM555 689h1V693h-1zM556 686h1V693h-1zM557 688h1V697h-1zM558 686h1V693h-1zM559 687h1V695h-1zM560 688h1V694h-1zM561 688h1V694h-1zM562 686h1V694h-1zM563 687h1V694h-1zM564 687h1V693h-1zM565 688h1V695h-1zM566 687h1V695h-1zM567 686h1V694h-1zM568 686h1V694h-1zM569 687h1V693h-1zM570 687h1V695h-1zM571 688h1V693h-1zM572 686h1V694h-1zM573 688h1V695h-1zM574 686h1V692h-1zM575 687h1V693h-1zM576 687h1V695h-1zM577 688h1V695h-1zM578 688h1V693h-1zM579 686h1V693h-1zM580 686h1V694h-1zM581 686h1V692h-1zM582 686h1V695h-1zM583 687h1V695h-1zM584 687h1V694h-1zM585 687h1V694h-1zM586 687h1V694h-1zM587 688h1V692h-1zM588 688h1V693h-1zM589 688h1V694h-1zM590 686h1V693h-1zM591 686h1V693h-1zM592 686h1V694h-1zM593 685h1V694h-1zM594 685h1V694h-1zM595 686h1V693h-1zM596 687h1V695h-1zM597 688h1V694h-1zM598 687h1V696h-1zM599 687h1V696h-1zM600 687h1V696h-1zM601 686h1V696h-1zM602 685h1V695h-1zM603 685h1V694h-1zM604 685h1V696h-1zM605 685h1V694h-1zM606 686h1V694h-1zM607 688h1V694h-1zM608 689h1V696h-1zM609 686h1V695h-1zM610 688h1V695h-1zM611 685h1V693h-1zM612 685h1V695h-1zM613 687h1V693h-1zM614 687h1V695h-1zM615 687h1V695h-1zM616 687h1V695h-1zM617 687h1V695h-1zM618 686h1V694h-1zM619 687h1V692h-1zM620 687h1V693h-1zM621 686h1V693h-1zM622 686h1V695h-1zM623 688h1V694h-1zM624 686h1V695h-1zM625 686h1V693h-1zM626 687h1V695h-1zM627 687h1V694h-1zM628 686h1V695h-1zM629 686h1V694h-1zM630 688h1V694h-1zM631 688h1V694h-1zM632 687h1V694h-1zM633 687h1V694h-1zM634 686h1V693h-1zM635 686h1V694h-1zM636 687h1V694h-1zM637 688h1V695h-1zM645 686h1V694h-1zM646 687h1V696h-1zM647 685h1V693h-1zM648 688h1V696h-1zM649 688h1V695h-1zM650 687h1V695h-1zM651 687h1V694h-1zM652 687h1V693h-1zM653 687h1V694h-1zM654 685h1V694h-1zM655 686h1V693h-1zM656 687h1V694h-1zM657 687h1V695h-1zM658 686h1V694h-1zM659 688h1V692h-1zM660 687h1V695h-1zM661 687h1V694h-1zM662 689h1V693h-1zM663 689h1V693h-1zM664 687h1V697h-1zM665 687h1V695h-1zM666 688h1V694h-1zM667 687h1V694h-1zM668 687h1V693h-1zM669 689h1V694h-1zM670 687h1V694h-1zM671 686h1V694h-1zM672 689h1V693h-1zM673 688h1V694h-1zM674 687h1V694h-1zM675 689h1V695h-1zM676 687h1V693h-1zM677 687h1V695h-1zM678 686h1V694h-1zM679 688h1V693h-1zM680 687h1V692h-1zM681 687h1V695h-1zM682 687h1V695h-1zM683 689h1V694h-1zM684 687h1V693h-1zM685 687h1V693h-1zM686 687h1V693h-1zM687 688h1V695h-1zM694 687h1V696h-1zM695 686h1V695h-1zM696 686h1V695h-1zM697 687h1V696h-1zM698 685h1V695h-1zM699 686h1V694h-1zM700 687h1V694h-1zM701 688h1V694h-1zM702 688h1V695h-1zM703 687h1V693h-1zM704 687h1V693h-1zM705 687h1V694h-1zM706 685h1V695h-1zM707 686h1V694h-1zM708 686h1V694h-1zM709 687h1V695h-1zM710 685h1V693h-1zM711 687h1V693h-1zM712 687h1V694h-1zM713 687h1V692h-1zM714 686h1V695h-1zM715 687h1V693h-1zM716 685h1V695h-1zM717 687h1V694h-1zM718 686h1V693h-1zM719 686h1V695h-1zM720 688h1V693h-1zM721 686h1V695h-1zM722 685h1V694h-1zM723 688h1V695h-1zM724 687h1V695h-1zM725 686h1V695h-1zM726 688h1V695h-1zM727 688h1V693h-1zM728 688h1V695h-1zM729 686h1V694h-1zM730 687h1V695h-1zM731 687h1V694h-1zM732 688h1V694h-1zM733 688h1V693h-1zM734 688h1V693h-1zM735 687h1V693h-1zM736 688h1V692h-1zM737 689h1V694h-1zM738 688h1V693h-1zM739 688h1V694h-1zM740 688h1V693h-1zM741 687h1V694h-1zM742 689h1V693h-1zM743 687h1V694h-1zM744 687h1V693h-1zM745 686h1V693h-1zM746 688h1V694h-1zM747 688h1V696h-1zM748 685h1V694h-1zM749 685h1V694h-1zM750 687h1V696h-1zM751 686h1V695h-1zM752 685h1V695h-1zM753 687h1V697h-1zM754 686h1V695h-1zM755 686h1V695h-1zM756 686h1V694h-1zM757 688h1V695h-1zM758 687h1V694h-1zM759 686h1V694h-1zM760 687h1V694h-1zM761 685h1V696h-1zM762 685h1V695h-1zM763 686h1V694h-1zM764 688h1V695h-1zM765 686h1V693h-1zM766 686h1V694h-1zM767 687h1V694h-1zM768 687h1V693h-1zM769 688h1V694h-1zM770 688h1V693h-1zM771 687h1V694h-1zM772 686h1V694h-1zM773 688h1V695h-1zM774 687h1V693h-1zM775 688h1V692h-1zM776 687h1V693h-1zM777 686h1V694h-1zM778 686h1V694h-1zM779 686h1V693h-1zM780 687h1V693h-1zM781 689h1V694h-1zM782 687h1V693h-1zM783 686h1V694h-1zM784 688h1V694h-1zM785 687h1V693h-1zM786 688h1V694h-1zM787 687h1V693h-1zM788 686h1V694h-1zM789 686h1V695h-1zM790 688h1V695h-1zM791 687h1V695h-1zM797 687h1V693h-1zM798 687h1V693h-1zM799 686h1V695h-1zM800 685h1V695h-1zM801 686h1V694h-1zM802 685h1V696h-1zM803 685h1V696h-1zM804 688h1V696h-1zM805 687h1V695h-1zM806 686h1V694h-1zM807 687h1V694h-1zM808 686h1V695h-1zM809 687h1V695h-1zM810 685h1V693h-1zM811 688h1V696h-1zM812 687h1V694h-1zM813 686h1V696h-1zM814 688h1V694h-1zM815 686h1V694h-1zM816 688h1V694h-1zM817 685h1V696h-1zM818 685h1V693h-1zM819 685h1V696h-1zM820 688h1V695h-1zM821 687h1V694h-1zM822 687h1V693h-1zM823 685h1V694h-1zM824 685h1V695h-1zM825 685h1V693h-1zM826 686h1V693h-1zM827 685h1V695h-1zM828 686h1V694h-1zM829 688h1V695h-1zM830 686h1V695h-1zM831 686h1V692h-1zM832 688h1V693h-1zM833 688h1V694h-1zM834 686h1V694h-1zM835 687h1V693h-1zM836 688h1V695h-1zM837 685h1V694h-1zM838 686h1V694h-1zM839 688h1V694h-1zM840 689h1V694h-1zM841 686h1V694h-1zM842 686h1V693h-1zM843 686h1V694h-1zM844 686h1V694h-1zM845 687h1V694h-1zM846 688h1V697h-1zM847 686h1V693h-1zM848 686h1V695h-1zM849 687h1V693h-1zM855 686h1V696h-1zM856 684h1V695h-1zM857 673h1V697h-1zM858 684h1V694h-1zM859 684h1V698h-1zM860 686h1V696h-1zM861 684h1V696h-1zM862 685h1V696h-1zM863 683h1V694h-1zM864 681h1V707h-1zM865 680h1V711h-1zM866 664h1V711h-1zM867 676h1V711h-1zM868 661h1V710h-1zM869 678h1V707h-1zM870 680h1V727h-1zM871 678h1V707h-1zM872 668h1V709h-1zM873 681h1V701h-1zM874 670h1V705h-1zM875 680h1V707h-1zM876 673h1V708h-1zM877 684h1V698h-1zM878 680h1V698h-1zM879 680h1V701h-1zM880 681h1V703h-1zM881 682h1V701h-1zM882 686h1V696h-1zM883 684h1V699h-1zM884 683h1V699h-1zM885 684h1V701h-1zM886 684h1V699h-1zM887 683h1V700h-1zM888 683h1V699h-1zM889 687h1V700h-1zM890 687h1V694h-1zM891 688h1V693h-1zM892 688h1V693h-1zM893 686h1V693h-1zM894 688h1V693h-1zM895 688h1V695h-1zM896 687h1V695h-1zM897 687h1V693h-1zM898 688h1V694h-1zM899 688h1V693h-1zM900 687h1V693h-1zM901 688h1V693h-1zM902 688h1V693h-1zM903 688h1V692h-1zM904 688h1V693h-1zM905 688h1V694h-1zM906 688h1V694h-1zM907 688h1V694h-1zM908 688h1V694h-1zM909 686h1V694h-1zM910 686h1V694h-1zM911 686h1V693h-1zM912 687h1V694h-1zM913 688h1V696h-1zM914 685h1V693h-1zM915 685h1V695h-1zM916 687h1V696h-1zM917 687h1V694h-1zM918 687h1V694h-1zM919 687h1V693h-1zM920 685h1V694h-1zM921 687h1V695h-1zM922 685h1V695h-1zM923 687h1V695h-1zM924 687h1V695h-1zM925 689h1V695h-1zM926 686h1V694h-1zM927 686h1V693h-1zM928 687h1V694h-1zM929 688h1V694h-1zM930 688h1V695h-1zM931 687h1V693h-1zM932 686h1V694h-1zM933 688h1V693h-1zM934 687h1V694h-1zM935 687h1V694h-1zM936 689h1V694h-1zM937 687h1V696h-1zM938 686h1V694h-1zM939 687h1V695h-1zM940 686h1V695h-1zM941 687h1V695h-1zM942 687h1V694h-1zM943 688h1V694h-1zM944 689h1V694h-1zM945 687h1V693h-1zM946 687h1V693h-1zM947 689h1V694h-1zM948 688h1V694h-1zM949 687h1V694h-1zM950 688h1V695h-1zM951 687h1V694h-1zM952 688h1V695h-1zM953 687h1V694h-1zM954 688h1V693h-1zM955 687h1V693h-1zM956 688h1V693h-1zM957 687h1V693h-1zM958 687h1V695h-1zM959 687h1V694h-1zM960 686h1V695h-1zM961 686h1V693h-1zM962 684h1V694h-1zM963 684h1V693h-1zM964 684h1V694h-1zM965 688h1V695h-1zM966 685h1V695h-1zM967 687h1V696h-1zM968 685h1V695h-1zM969 686h1V694h-1zM970 688h1V696h-1zM971 686h1V695h-1zM972 686h1V693h-1zM973 686h1V695h-1zM974 687h1V693h-1zM975 685h1V695h-1zM976 687h1V695h-1zM977 687h1V694h-1zM978 687h1V694h-1zM979 687h1V695h-1zM980 686h1V694h-1zM981 686h1V696h-1zM982 688h1V696h-1zM983 688h1V696h-1zM984 682h1V695h-1zM985 686h1V697h-1zM986 686h1V697h-1zM987 683h1V694h-1zM988 684h1V694h-1zM989 684h1V697h-1zM990 685h1V698h-1zM991 687h1V696h-1zM992 678h1V694h-1zM993 686h1V697h-1zM994 686h1V697h-1zM995 683h1V695h-1zM996 683h1V694h-1zM997 687h1V697h-1zM998 685h1V694h-1zM999 684h1V695h-1zM1000 686h1V695h-1zM1001 683h1V696h-1zM1002 685h1V698h-1zM1003 684h1V698h-1zM1004 686h1V698h-1zM1005 685h1V694h-1zM1006 684h1V698h-1zM1007 687h1V697h-1zM1008 686h1V697h-1zM1009 685h1V694h-1zM1010 684h1V695h-1zM1011 687h1V694h-1zM1012 686h1V695h-1zM1013 685h1V696h-1zM1014 687h1V695h-1zM1015 686h1V697h-1zM1016 687h1V693h-1zM1017 686h1V692h-1zM1018 686h1V693h-1zM1019 687h1V695h-1zM1020 688h1V693h-1zM1021 687h1V695h-1zM1022 687h1V694h-1zM1023 686h1V694h-1zM1024 687h1V693h-1zM1025 689h1V696h-1zM1026 686h1V693h-1zM1027 687h1V696h-1zM1028 687h1V694h-1zM1029 687h1V694h-1zM1030 686h1V694h-1zM1031 686h1V693h-1zM1032 688h1V694h-1zM1033 687h1V695h-1zM1034 687h1V694h-1zM1035 686h1V693h-1zM1036 687h1V694h-1zM1037 686h1V694h-1zM1038 686h1V694h-1zM1039 686h1V695h-1zM1040 686h1V693h-1zM1041 687h1V694h-1zM1042 688h1V694h-1zM1043 687h1V695h-1zM1044 689h1V693h-1zM1045 688h1V695h-1zM1046 687h1V694h-1zM1047 688h1V695h-1zM1048 687h1V693h-1zM1049 687h1V694h-1zM1050 686h1V694h-1zM1051 687h1V694h-1zM1052 687h1V694h-1zM1053 687h1V695h-1zM1054 688h1V694h-1zM1055 688h1V693h-1zM1056 687h1V693h-1zM1057 687h1V694h-1zM1058 687h1V695h-1zM1059 686h1V693h-1zM1060 687h1V694h-1zM1061 687h1V695h-1zM1062 688h1V694h-1zM1063 686h1V693h-1zM1064 687h1V693h-1zM1065 686h1V693h-1zM1066 686h1V695h-1zM1067 687h1V695h-1zM1068 687h1V692h-1zM1069 687h1V694h-1zM1070 689h1V694h-1zM1071 686h1V692h-1zM1072 686h1V695h-1zM1073 687h1V695h-1zM1074 686h1V696h-1zM1075 686h1V692h-1zM1076 687h1V693h-1zM1077 687h1V694h-1zM1078 688h1V694h-1zM1079 688h1V694h-1zM1080 687h1V694h-1zM1081 688h1V694h-1zM1082 687h1V695h-1zM1083 686h1V695h-1zM1084 688h1V694h-1zM1085 687h1V694h-1zM1086 688h1V695h-1zM1087 686h1V692h-1zM1088 687h1V693h-1zM1089 687h1V694h-1zM1090 687h1V693h-1zM1091 687h1V692h-1zM1092 688h1V695h-1zM1093 688h1V695h-1zM1094 687h1V694h-1zM1095 687h1V693h-1zM1096 687h1V695h-1zM1097 688h1V695h-1zM1098 687h1V694h-1zM1099 687h1V696h-1zM1100 685h1V695h-1zM1101 688h1V694h-1zM1102 687h1V696h-1zM1103 688h1V697h-1zM1104 684h1V694h-1zM1105 684h1V694h-1zM1106 686h1V696h-1zM1107 685h1V695h-1zM1108 684h1V697h-1zM1109 686h1V695h-1zM1110 687h1V695h-1zM1111 685h1V693h-1zM1112 687h1V694h-1zM1113 686h1V695h-1zM1114 687h1V694h-1zM1115 685h1V696h-1zM1116 685h1V695h-1zM1117 688h1V696h-1zM1118 685h1V696h-1zM1119 687h1V694h-1zM1120 686h1V695h-1zM1121 688h1V694h-1zM1122 688h1V696h-1zM1123 681h1V694h-1zM1124 688h1V695h-1zM1125 687h1V693h-1zM1126 688h1V696h-1zM1127 688h1V696h-1zM1128 688h1V694h-1zM1129 687h1V694h-1zM1130 687h1V696h-1zM1131 685h1V696h-1zM1132 687h1V695h-1zM1133 686h1V694h-1zM1134 688h1V693h-1zM1135 685h1V694h-1z"/>
<line x1="300.5" y1="689.4" x2="305.5" y2="691.5" stroke="#0000ff" stroke-width="1.2"/>
<line x1="370.5" y1="692.2" x2="375.5" y2="692.5" stroke="#0000ff" stroke-width="1.2"/>
<line x1="425.5" y1="693.5" x2="431.5" y2="688.1" stroke="#0000ff" stroke-width="1.2"/>
<line x1="637.5" y1="691.4" x2="645.5" y2="692.4" stroke="#0000ff" stroke-width="1.2"/>
<line x1="687.5" y1="690.9" x2="694.5" y2="691.1" stroke="#0000ff" stroke-width="1.2"/>
<line x1="791.5" y1="689.9" x2="797.5" y2="690.5" stroke="#0000ff" stroke-width="1.2"/>
<line x1="849.5" y1="692.4" x2="855.5" y2="692.3" stroke="#0000ff" stroke-width="1.2"/>
<line x1="863.5" y1="687.6" x2="864.5" y2="690.7" stroke="#0000ff" stroke-width="1.2"/>
<path fill="#0000ff" shape-rendering="crispEdges" d="M243 1111h1V1118h-1zM244 1109h1V1117h-1zM245 1110h1V1117h-1zM246 1111h1V1118h-1zM247 1110h1V1116h-1zM248 1111h1V1116h-1zM249 1111h1V1116h-1zM250 1109h1V1119h-1zM251 1111h1V1117h-1zM252 1110h1V1116h-1zM253 1111h1V1116h-1zM254 1111h1V1117h-1zM255 1112h1V1116h-1zM256 1112h1V1117h-1zM257 1111h1V1117h-1zM258 1110h1V1117h-1zM259 1110h1V1116h-1zM260 1110h1V1116h-1zM261 1111h1V1117h-1zM262 1111h1V1117h-1zM263 1112h1V1117h-1zM264 1112h1V1117h-1zM265 1111h1V1116h-1zM266 1111h1V1117h-1zM267 1111h1V1115h-1zM268 1111h1V1116h-1zM269 1111h1V1117h-1zM270 1110h1V1117h-1zM271 1110h1V1116h-1zM272 1109h1V1116h-1zM273 1111h1V1116h-1zM274 1111h1V1118h-1zM275 1110h1V1117h-1zM276 1111h1V1117h-1zM277 1111h1V1117h-1zM278 1110h1V1116h-1zM279 1110h1V1117h-1zM280 1111h1V1115h-1zM281 1111h1V1116h-1zM282 1110h1V1117h-1zM283 1110h1V1116h-1zM284 1110h1V1117h-1zM285 1111h1V1117h-1zM286 1111h1V1116h-1zM287 1112h1V1117h-1zM288 1111h1V1116h-1zM289 1111h1V1118h-1zM290 1111h1V1117h-1zM291 1109h1V1115h-1zM292 1109h1V1118h-1zM293 1111h1V1116h-1zM294 1110h1V1117h-1zM295 1111h1V1116h-1zM296 1109h1V1117h-1zM297 1110h1V1117h-1zM298 1111h1V1117h-1zM299 1110h1V1118h-1zM300 1111h1V1118h-1zM305 1111h1V1117h-1zM306 1111h1V1117h-1zM307 1109h1V1117h-1zM308 1111h1V1119h-1zM309 1111h1V1116h-1zM310 1109h1V1117h-1zM311 1110h1V1116h-1zM312 1109h1V1117h-1zM313 1109h1V1117h-1zM314 1109h1V1116h-1zM315 1109h1V1116h-1zM316 1109h1V1117h-1zM317 1111h1V1118h-1zM318 1109h1V1117h-1zM319 1109h1V1116h-1zM320 1109h1V1117h-1zM321 1110h1V1117h-1zM322 1112h1V1117h-1zM323 1110h1V1118h-1zM324 1109h1V1117h-1zM325 1109h1V1117h-1zM326 1111h1V1117h-1zM327 1111h1V1116h-1zM328 1110h1V1118h-1zM329 1111h1V1116h-1zM330 1110h1V1116h-1zM331 1111h1V1115h-1zM332 1110h1V1117h-1zM333 1110h1V1117h-1zM334 1109h1V1117h-1zM335 1111h1V1117h-1zM336 1110h1V1118h-1zM337 1110h1V1117h-1zM338 1110h1V1117h-1zM339 1111h1V1116h-1zM340 1111h1V1118h-1zM341 1111h1V1116h-1zM342 1111h1V1118h-1zM343 1111h1V1116h-1zM344 1111h1V1117h-1zM345 1111h1V1115h-1zM346 1109h1V1118h-1zM347 1110h1V1116h-1zM348 1111h1V1116h-1zM349 1109h1V1118h-1zM350 1110h1V1117h-1zM351 1110h1V1117h-1zM352 1110h1V1118h-1zM353 1109h1V1116h-1zM354 1109h1V1116h-1zM355 1109h1V1116h-1zM356 1110h1V1118h-1zM357 1110h1V1116h-1zM358 1109h1V1119h-1zM359 1111h1V1117h-1zM360 1109h1V1118h-1zM361 1111h1V1117h-1zM362 1109h1V1117h-1zM363 1111h1V1118h-1zM364 1110h1V1118h-1zM365 1111h1V1118h-1zM366 1109h1V1117h-1zM367 1111h1V1119h-1zM368 1110h1V1119h-1zM369 1108h1V1117h-1zM370 1110h1V1118h-1zM375 1111h1V1115h-1zM376 1110h1V1116h-1zM377 1111h1V1117h-1zM378 1111h1V1115h-1zM379 1110h1V1117h-1zM380 1111h1V1116h-1zM381 1111h1V1116h-1zM382 1111h1V1116h-1zM383 1111h1V1116h-1zM384 1111h1V1118h-1zM385 1111h1V1117h-1zM386 1110h1V1117h-1zM387 1110h1V1117h-1zM388 1109h1V1116h-1zM389 1109h1V1117h-1zM390 1110h1V1116h-1zM391 1110h1V1115h-1zM392 1108h1V1115h-1zM393 1110h1V1118h-1zM394 1111h1V1118h-1zM395 1110h1V1116h-1zM396 1110h1V1117h-1zM397 1110h1V1121h-1zM398 1110h1V1118h-1zM399 1110h1V1117h-1zM400 1110h1V1117h-1zM401 1110h1V1117h-1zM402 1111h1V1117h-1zM403 1110h1V1116h-1zM404 1111h1V1116h-1zM405 1110h1V1118h-1zM406 1112h1V1116h-1zM407 1110h1V1116h-1zM408 1109h1V1116h-1zM409 1111h1V1117h-1zM410 1111h1V1116h-1zM411 1111h1V1115h-1zM412 1111h1V1116h-1zM413 1110h1V1116h-1zM414 1111h1V1115h-1zM415 1110h1V1116h-1zM416 1111h1V1116h-1zM417 1112h1V1116h-1zM418 1112h1V1115h-1zM419 1111h1V1117h-1zM420 1110h1V1115h-1zM421 1110h1V1116h-1zM422 1112h1V1115h-1zM423 1112h1V1116h-1zM424 1110h1V1116h-1zM425 1111h1V1116h-1zM431 1111h1V1116h-1zM432 1111h1V1116h-1zM433 1111h1V1117h-1zM434 1111h1V1117h-1zM435 1111h1V1117h-1zM436 1110h1V1117h-1zM437 1111h1V1117h-1zM438 1110h1V1116h-1zM439 1109h1V1117h-1zM440 1109h1V1116h-1zM441 1111h1V1117h-1zM442 1111h1V1117h-1zM443 1112h1V1117h-1zM444 1111h1V1116h-1zM445 1111h1V1118h-1zM446 1110h1V1117h-1zM447 1111h1V1117h-1zM448 1111h1V1116h-1zM449 1111h1V1117h-1zM450 1112h1V1116h-1zM451 1111h1V1117h-1zM452 1111h1V1117h-1zM453 1110h1V1116h-1zM454 1111h1V1116h-1zM455 1109h1V1117h-1zM456 1110h1V1116h-1zM457 1109h1V1118h-1zM458 1111h1V1116h-1zM459 1110h1V1116h-1zM460 1112h1V1116h-1zM461 1111h1V1117h-1zM462 1111h1V1116h-1zM463 1110h1V1117h-1zM464 1111h1V1116h-1zM465 1112h1V1115h-1zM466 1112h1V1115h-1zM467 1113h1V1114h-1zM468 1112h1V1115h-1zM469 1112h1V1115h-1zM470 1113h1V1115h-1zM471 1112h1V1114h-1zM472 1112h1V1115h-1zM473 1113h1V1114h-1zM474 1113h1V1115h-1zM475 1112h1V1115h-1zM476 1112h1V1115h-1zM477 1112h1V1115h-1zM478 1112h1V1115h-1zM479 1112h1V1115h-1zM480 1112h1V1115h-1zM481 1113h1V1115h-1zM482 1112h1V1115h-1zM483 1112h1V1115h-1zM484 1112h1V1114h-1zM485 1112h1V1115h-1zM486 1112h1V1115h-1zM487 1112h1V1115h-1zM488 1112h1V1115h-1zM489 1112h1V1115h-1zM490 1112h1V1115h-1zM491 1112h1V1115h-1zM492 1112h1V1114h-1zM493 1112h1V1115h-1zM494 1112h1V1115h-1zM495 1112h1V1115h-1zM496 1112h1V1115h-1zM497 1112h1V1115h-1zM498 1112h1V1115h-1zM499 1112h1V1115h-1zM500 1112h1V1115h-1zM501 1112h1V1115h-1zM502 1113h1V1114h-1zM503 1112h1V1115h-1zM504 1112h1V1115h-1zM505 1112h1V1115h-1zM506 1112h1V1115h-1zM507 1113h1V1115h-1zM508 1113h1V1115h-1zM509 1112h1V1115h-1zM510 1113h1V1115h-1zM511 1112h1V1115h-1zM512 1112h1V1115h-1zM513 1112h1V1114h-1zM514 1112h1V1114h-1zM515 1113h1V1114h-1zM516 1112h1V1114h-1zM517 1112h1V1115h-1zM518 1112h1V1115h-1zM519 1112h1V1115h-1zM520 1112h1V1115h-1zM521 1112h1V1114h-1zM522 1112h1V1114h-1zM523 1113h1V1115h-1zM524 1112h1V1115h-1zM525 1112h1V1115h-1zM526 1112h1V1114h-1zM527 1113h1V1115h-1zM528 1112h1V1115h-1zM529 1112h1V1115h-1zM530 1113h1V1114h-1zM531 1112h1V1114h-1zM532 1112h1V1114h-1zM533 1113h1V1115h-1zM534 1112h1V1115h-1zM535 1112h1V1115h-1zM536 1112h1V1115h-1zM537 1112h1V1115h-1zM538 1112h1V1115h-1zM539 1112h1V1115h-1zM540 1112h1V1115h-1zM541 1112h1V1115h-1zM542 1112h1V1115h-1zM543 1113h1V1114h-1zM544 1113h1V1115h-1zM545 1112h1V1114h-1zM546 1112h1V1115h-1zM547 1112h1V1114h-1zM548 1112h1V1115h-1zM549 1112h1V1115h-1zM550 1112h1V1115h-1zM551 1112h1V1114h-1zM552 1112h1V1115h-1zM553 1112h1V1115h-1zM554 1112h1V1115h-1zM555 1113h1V1115h-1zM556 1112h1V1115h-1zM557 1112h1V1114h-1zM558 1113h1V1114h-1zM559 1112h1V1115h-1zM560 1112h1V1114h-1zM561 1113h1V1115h-1zM562 1112h1V1115h-1zM563 1112h1V1115h-1zM564 1112h1V1115h-1zM565 1113h1V1115h-1zM566 1112h1V1115h-1zM567 1112h1V1115h-1zM568 1112h1V1115h-1zM569 1113h1V1115h-1zM570 1112h1V1114h-1zM571 1112h1V1114h-1zM572 1112h1V1115h-1zM573 1112h1V1115h-1zM574 1112h1V1115h-1zM575 1112h1V1115h-1zM576 1112h1V1115h-1zM577 1112h1V1115h-1zM578 1112h1V1115h-1zM579 1113h1V1115h-1zM580 1113h1V1115h-1zM581 1112h1V1115h-1zM582 1112h1V1115h-1zM583 1112h1V1115h-1zM584 1113h1V1115h-1zM585 1112h1V1114h-1zM586 1112h1V1115h-1zM587 1112h1V1115h-1zM588 1113h1V1115h-1zM589 1112h1V1115h-1zM590 1112h1V1114h-1zM591 1113h1V1115h-1zM592 1112h1V1115h-1zM593 1112h1V1115h-1zM594 1112h1V1115h-1zM595 1113h1V1115h-1zM596 1112h1V1114h-1zM597 1113h1V1114h-1zM598 1113h1V1114h-1zM599 1112h1V1115h-1zM600 1112h1V1114h-1zM601 1112h1V1114h-1zM602 1112h1V1115h-1zM603 1112h1V1115h-1zM604 1112h1V1115h-1zM605 1112h1V1115h-1zM606 1112h1V1114h-1zM607 1113h1V1115h-1zM608 1112h1V1115h-1zM609 1112h1V1115h-1zM610 1112h1V1114h-1zM611 1112h1V1115h-1zM612 1112h1V1115h-1zM613 1112h1V1115h-1zM614 1113h1V1115h-1zM615 1112h1V1115h-1zM616 1113h1V1114h-1zM617 1112h1V1115h-1zM618 1112h1V1115h-1zM619 1112h1V1115h-1zM620 1112h1V1115h-1zM621 1112h1V1115h-1zM622 1112h1V1115h-1zM623 1112h1V1115h-1zM624 1113h1V1115h-1zM625 1112h1V1114h-1zM626 1112h1V1115h-1zM627 1112h1V1115h-1zM628 1112h1V1115h-1zM629 1112h1V1115h-1zM630 1112h1V1115h-1zM631 1112h1V1115h-1zM632 1112h1V1115h-1zM633 1113h1V1115h-1zM634 1112h1V1115h-1zM635 1112h1V1115h-1zM636 1113h1V1115h-1zM637 1112h1V1114h-1zM645 1112h1V1115h-1zM646 1112h1V1114h-1zM647 1113h1V1114h-1zM648 1113h1V1115h-1zM649 1112h1V1115h-1zM650 1112h1V1115h-1zM651 1113h1V1115h-1zM652 1113h1V1115h-1zM653 1112h1V1115h-1zM654 1112h1V1115h-1zM655 1113h1V1114h-1zM656 1113h1V1114h-1zM657 1112h1V1115h-1zM658 1112h1V1114h-1zM659 1112h1V1114h-1zM660 1112h1V1115h-1zM661 1112h1V1115h-1zM662 1112h1V1115h-1zM663 1112h1V1115h-1zM664 1113h1V1115h-1zM665 1112h1V1115h-1zM666 1112h1V1115h-1zM667 1112h1V1115h-1zM668 1112h1V1115h-1zM669 1112h1V1114h-1zM670 1112h1V1114h-1zM671 1112h1V1115h-1zM672 1112h1V1115h-1zM673 1113h1V1115h-1zM674 1112h1V1115h-1zM675 1112h1V1115h-1zM676 1112h1V1115h-1zM677 1112h1V1115h-1zM678 1113h1V1115h-1zM679 1112h1V1115h-1zM680 1112h1V1115h-1zM681 1113h1V1114h-1zM682 1112h1V1115h-1zM683 1112h1V1115h-1zM684 1112h1V1115h-1zM685 1112h1V1114h-1zM686 1113h1V1115h-1zM687 1112h1V1115h-1zM694 1112h1V1114h-1zM695 1113h1V1115h-1zM696 1112h1V1115h-1zM697 1113h1V1114h-1zM698 1112h1V1114h-1zM699 1113h1V1115h-1zM700 1112h1V1115h-1zM701 1113h1V1115h-1zM702 1112h1V1114h-1zM703 1112h1V1115h-1zM704 1112h1V1115h-1zM705 1112h1V1115h-1zM706 1112h1V1115h-1zM707 1112h1V1115h-1zM708 1112h1V1115h-1zM709 1112h1V1115h-1zM710 1112h1V1115h-1zM711 1112h1V1115h-1zM712 1112h1V1115h-1zM713 1112h1V1115h-1zM714 1112h1V1115h-1zM715 1112h1V1115h-1zM716 1112h1V1115h-1zM717 1112h1V1115h-1zM718 1113h1V1115h-1zM719 1112h1V1115h-1zM720 1112h1V1114h-1zM721 1112h1V1114h-1zM722 1112h1V1115h-1zM723 1113h1V1115h-1zM724 1112h1V1114h-1zM725 1113h1V1115h-1zM726 1113h1V1114h-1zM727 1113h1V1115h-1zM728 1112h1V1114h-1zM729 1113h1V1114h-1zM730 1113h1V1114h-1zM731 1113h1V1115h-1zM732 1112h1V1114h-1zM733 1112h1V1115h-1zM734 1112h1V1115h-1zM735 1112h1V1115h-1zM736 1112h1V1114h-1zM737 1112h1V1115h-1zM738 1112h1V1115h-1zM739 1113h1V1115h-1zM740 1112h1V1115h-1zM741 1112h1V1115h-1zM742 1112h1V1115h-1zM743 1112h1V1115h-1zM744 1112h1V1115h-1zM745 1112h1V1114h-1zM746 1112h1V1115h-1zM747 1112h1V1115h-1zM748 1113h1V1115h-1zM749 1113h1V1115h-1zM750 1113h1V1114h-1zM751 1112h1V1115h-1zM752 1112h1V1115h-1zM753 1112h1V1115h-1zM754 1112h1V1115h-1zM755 1112h1V1115h-1zM756 1112h1V1115h-1zM757 1112h1V1115h-1zM758 1112h1V1115h-1zM759 1112h1V1115h-1zM760 1112h1V1115h-1zM761 1112h1V1115h-1zM762 1113h1V1115h-1zM763 1112h1V1114h-1zM764 1113h1V1115h-1zM765 1112h1V1114h-1zM766 1112h1V1115h-1zM767 1112h1V1115h-1zM768 1112h1V1115h-1zM769 1112h1V1115h-1zM770 1112h1V1115h-1zM771 1112h1V1115h-1zM772 1113h1V1115h-1zM773 1112h1V1115h-1zM774 1112h1V1115h-1zM775 1112h1V1115h-1zM776 1112h1V1114h-1zM777 1112h1V1115h-1zM778 1112h1V1114h-1zM779 1113h1V1115h-1zM780 1113h1V1115h-1zM781 1112h1V1115h-1zM782 1112h1V1114h-1zM783 1112h1V1114h-1zM784 1113h1V1114h-1zM785 1113h1V1114h-1zM786 1112h1V1114h-1zM787 1112h1V1115h-1zM788 1112h1V1115h-1zM789 1112h1V1115h-1zM790 1113h1V1115h-1zM791 1112h1V1114h-1zM797 1112h1V1115h-1zM798 1112h1V1115h-1zM799 1112h1V1115h-1zM800 1113h1V1115h-1zM801 1112h1V1115h-1zM802 1112h1V1115h-1zM803 1113h1V1115h-1zM804 1112h1V1115h-1zM805 1112h1V1115h-1zM806 1112h1V1115h-1zM807 1112h1V1115h-1zM808 1112h1V1115h-1zM809 1112h1V1115h-1zM810 1113h1V1115h-1zM811 1113h1V1115h-1zM812 1112h1V1115h-1zM813 1112h1V1115h-1zM814 1112h1V1115h-1zM815 1112h1V1115h-1zM816 1112h1V1115h-1zM817 1112h1V1115h-1zM818 1112h1V1115h-1zM819 1113h1V1115h-1zM820 1113h1V1115h-1zM821 1112h1V1115h-1zM822 1112h1V1115h-1zM823 1112h1V1115h-1zM824 1112h1V1115h-1zM825 1113h1V1115h-1zM826 1112h1V1115h-1zM827 1112h1V1115h-1zM828 1112h1V1115h-1zM829 1113h1V1115h-1zM830 1112h1V1115h-1zM831 1112h1V1115h-1zM832 1112h1V1115h-1zM833 1112h1V1114h-1zM834 1112h1V1115h-1zM835 1112h1V1114h-1zM836 1112h1V1115h-1zM837 1112h1V1114h-1zM838 1112h1V1115h-1zM839 1112h1V1114h-1zM840 1112h1V1114h-1zM841 1112h1V1115h-1zM842 1112h1V1115h-1zM843 1112h1V1115h-1zM844 1112h1V1115h-1zM845 1112h1V1115h-1zM846 1112h1V1115h-1zM847 1112h1V1115h-1zM848 1112h1V1115h-1zM849 1112h1V1115h-1zM855 1112h1V1114h-1zM856 1112h1V1115h-1zM857 1104h1V1115h-1zM858 1112h1V1115h-1zM859 1113h1V1114h-1zM860 1113h1V1115h-1zM861 1112h1V1115h-1zM862 1112h1V1115h-1zM863 1112h1V1115h-1zM864 1109h1V1116h-1zM865 1109h1V1116h-1zM866 1112h1V1118h-1zM867 1111h1V1118h-1zM868 1110h1V1116h-1zM869 1110h1V1118h-1zM870 1110h1V1116h-1zM871 1110h1V1117h-1zM872 1112h1V1117h-1zM873 1111h1V1117h-1zM874 1111h1V1118h-1zM875 1111h1V1116h-1zM876 1112h1V1116h-1zM877 1111h1V1117h-1zM878 1111h1V1117h-1zM879 1111h1V1117h-1zM880 1112h1V1114h-1zM881 1113h1V1115h-1zM882 1112h1V1114h-1zM883 1113h1V1115h-1zM884 1112h1V1114h-1zM885 1112h1V1115h-1zM886 1113h1V1115h-1zM887 1112h1V1115h-1zM888 1112h1V1114h-1zM889 1112h1V1114h-1zM890 1113h1V1115h-1zM891 1113h1V1115h-1zM892 1113h1V1114h-1zM893 1112h1V1115h-1zM894 1113h1V1115h-1zM895 1112h1V1115h-1zM896 1112h1V1114h-1zM897 1113h1V1114h-1zM898 1113h1V1114h-1zM899 1113h1V1115h-1zM900 1112h1V1115h-1zM901 1112h1V1115h-1zM902 1113h1V1114h-1zM903 1112h1V1115h-1zM904 1112h1V1115h-1zM905 1113h1V1115h-1zM906 1113h1V1114h-1zM907 1113h1V1115h-1zM908 1112h1V1115h-1zM909 1113h1V1115h-1zM910 1112h1V1115h-1zM911 1112h1V1114h-1zM912 1113h1V1114h-1zM913 1112h1V1114h-1zM914 1112h1V1115h-1zM915 1112h1V1114h-1zM916 1113h1V1114h-1zM917 1112h1V1115h-1zM918 1112h1V1114h-1zM919 1112h1V1115h-1zM920 1112h1V1115h-1zM921 1112h1V1115h-1zM922 1113h1V1115h-1zM923 1112h1V1115h-1zM924 1113h1V1115h-1zM925 1112h1V1115h-1zM926 1112h1V1114h-1zM927 1112h1V1115h-1zM928 1112h1V1115h-1zM929 1112h1V1115h-1zM930 1112h1V1115h-1zM931 1112h1V1115h-1zM932 1113h1V1115h-1zM933 1112h1V1115h-1zM934 1112h1V1115h-1zM935 1112h1V1115h-1zM936 1112h1V1115h-1zM937 1112h1V1114h-1zM938 1112h1V1114h-1zM939 1112h1V1115h-1zM940 1112h1V1115h-1zM941 1112h1V1114h-1zM942 1112h1V1115h-1zM943 1112h1V1114h-1zM944 1112h1V1115h-1zM945 1113h1V1115h-1zM946 1112h1V1115h-1zM947 1113h1V1115h-1zM948 1112h1V1115h-1zM949 1112h1V1115h-1zM950 1112h1V1115h-1zM951 1112h1V1114h-1zM952 1112h1V1115h-1zM953 1112h1V1115h-1zM954 1112h1V1114h-1zM955 1113h1V1115h-1zM956 1112h1V1115h-1zM957 1113h1V1114h-1zM958 1112h1V1115h-1zM959 1112h1V1114h-1zM960 1111h1V1115h-1zM961 1111h1V1116h-1zM962 1111h1V1115h-1zM963 1111h1V1116h-1zM964 1111h1V1116h-1zM965 1111h1V1116h-1zM966 1111h1V1115h-1zM967 1111h1V1116h-1zM968 1111h1V1116h-1zM969 1111h1V1116h-1zM970 1111h1V1116h-1zM971 1111h1V1116h-1zM972 1110h1V1116h-1zM973 1110h1V1116h-1zM974 1111h1V1115h-1zM975 1111h1V1115h-1zM976 1111h1V1116h-1zM977 1112h1V1115h-1zM978 1111h1V1115h-1zM979 1111h1V1116h-1zM980 1111h1V1115h-1zM981 1110h1V1116h-1zM982 1111h1V1116h-1zM983 1110h1V1115h-1zM984 1110h1V1115h-1zM985 1111h1V1116h-1zM986 1111h1V1116h-1zM987 1112h1V1116h-1zM988 1110h1V1117h-1zM989 1112h1V1115h-1zM990 1110h1V1114h-1zM991 1112h1V1115h-1zM992 1111h1V1117h-1zM993 1110h1V1116h-1zM994 1111h1V1117h-1zM995 1112h1V1115h-1zM996 1111h1V1115h-1zM997 1110h1V1116h-1zM998 1110h1V1116h-1zM999 1111h1V1117h-1zM1000 1112h1V1116h-1zM1001 1111h1V1116h-1zM1002 1111h1V1116h-1zM1003 1112h1V1116h-1zM1004 1111h1V1116h-1zM1005 1112h1V1116h-1zM1006 1111h1V1116h-1zM1007 1111h1V1115h-1zM1008 1111h1V1116h-1zM1009 1111h1V1116h-1zM1010 1111h1V1116h-1zM1011 1112h1V1115h-1zM1012 1111h1V1115h-1zM1013 1111h1V1116h-1zM1014 1112h1V1115h-1zM1015 1112h1V1116h-1zM1016 1112h1V1116h-1zM1017 1111h1V1115h-1zM1018 1112h1V1115h-1zM1019 1112h1V1115h-1zM1020 1111h1V1116h-1zM1021 1112h1V1115h-1zM1022 1111h1V1115h-1zM1023 1112h1V1115h-1zM1024 1112h1V1115h-1zM1025 1112h1V1115h-1zM1026 1112h1V1115h-1zM1027 1112h1V1115h-1zM1028 1112h1V1115h-1zM1029 1112h1V1115h-1zM1030 1112h1V1115h-1zM1031 1112h1V1115h-1zM1032 1111h1V1115h-1zM1033 1111h1V1115h-1zM1034 1112h1V1115h-1zM1035 1112h1V1115h-1zM1036 1112h1V1115h-1zM1037 1112h1V1116h-1zM1038 1110h1V1115h-1zM1039 1112h1V1115h-1zM1040 1112h1V1115h-1zM1041 1112h1V1115h-1zM1042 1112h1V1115h-1zM1043 1111h1V1116h-1zM1044 1111h1V1115h-1zM1045 1112h1V1115h-1zM1046 1112h1V1116h-1zM1047 1111h1V1115h-1zM1048 1111h1V1116h-1zM1049 1112h1V1115h-1zM1050 1111h1V1115h-1zM1051 1112h1V1115h-1zM1052 1111h1V1115h-1zM1053 1112h1V1116h-1zM1054 1112h1V1115h-1zM1055 1111h1V1116h-1zM1056 1112h1V1115h-1zM1057 1112h1V1116h-1zM1058 1112h1V1115h-1zM1059 1112h1V1116h-1zM1060 1112h1V1115h-1zM1061 1112h1V1115h-1zM1062 1112h1V1115h-1zM1063 1112h1V1115h-1zM1064 1112h1V1115h-1zM1065 1112h1V1115h-1zM1066 1112h1V1116h-1zM1067 1111h1V1115h-1zM1068 1112h1V1116h-1zM1069 1111h1V1115h-1zM1070 1112h1V1115h-1zM1071 1112h1V1115h-1zM1072 1111h1V1116h-1zM1073 1111h1V1115h-1zM1074 1112h1V1115h-1zM1075 1112h1V1115h-1zM1076 1112h1V1114h-1zM1077 1112h1V1115h-1zM1078 1112h1V1115h-1zM1079 1112h1V1116h-1zM1080 1112h1V1115h-1zM1081 1111h1V1115h-1zM1082 1112h1V1115h-1zM1083 1111h1V1116h-1zM1084 1111h1V1115h-1zM1085 1111h1V1116h-1zM1086 1112h1V1116h-1zM1087 1112h1V1115h-1zM1088 1111h1V1115h-1zM1089 1112h1V1115h-1zM1090 1111h1V1115h-1zM1091 1111h1V1115h-1zM1092 1112h1V1115h-1zM1093 1111h1V1116h-1zM1094 1112h1V1116h-1zM1095 1112h1V1116h-1zM1096 1111h1V1115h-1zM1097 1111h1V1115h-1zM1098 1112h1V1116h-1zM1099 1112h1V1115h-1zM1100 1110h1V1116h-1zM1101 1111h1V1116h-1zM1102 1110h1V1117h-1zM1103 1110h1V1116h-1zM1104 1110h1V1116h-1zM1105 1110h1V1116h-1zM1106 1112h1V1117h-1zM1107 1111h1V1116h-1zM1108 1110h1V1119h-1zM1109 1111h1V1117h-1zM1110 1111h1V1115h-1zM1111 1111h1V1117h-1zM1112 1111h1V1116h-1zM1113 1111h1V1116h-1zM1114 1111h1V1118h-1zM1115 1111h1V1118h-1zM1116 1110h1V1115h-1zM1117 1111h1V1116h-1zM1118 1111h1V1118h-1zM1119 1110h1V1116h-1zM1120 1111h1V1117h-1zM1121 1111h1V1117h-1zM1122 1111h1V1117h-1zM1123 1110h1V1116h-1zM1124 1111h1V1116h-1zM1125 1111h1V1117h-1zM1126 1112h1V1117h-1zM1127 1111h1V1118h-1zM1128 1112h1V1117h-1zM1129 1111h1V1115h-1zM1130 1111h1V1116h-1zM1131 1112h1V1117h-1zM1132 1111h1V1116h-1zM1133 1112h1V1117h-1zM1134 1110h1V1117h-1zM1135 1110h1V1116h-1z"/>
<line x1="300.5" y1="1111.7" x2="305.5" y2="1111.5" stroke="#0000ff" stroke-width="1.2"/>
<line x1="370.5" y1="1111.6" x2="375.5" y2="1113.9" stroke="#0000ff" stroke-width="1.2"/>
<line x1="425.5" y1="1114.8" x2="431.5" y2="1114.9" stroke="#0000ff" stroke-width="1.2"/>
<line x1="637.5" y1="1113.6" x2="645.5" y2="1113.6" stroke="#0000ff" stroke-width="1.2"/>
<line x1="687.5" y1="1113.8" x2="694.5" y2="1113.4" stroke="#0000ff" stroke-width="1.2"/>
<line x1="791.5" y1="1113.2" x2="797.5" y2="1113.2" stroke="#0000ff" stroke-width="1.2"/>
<line x1="849.5" y1="1113.0" x2="855.5" y2="1113.8" stroke="#0000ff" stroke-width="1.2"/>
<line x1="863.5" y1="1113.5" x2="864.5" y2="1114.4" stroke="#0000ff" stroke-width="1.2"/>
<polyline points="243,1456.5 272.5,1456.5 274.5,1453.5 283.5,1453.5 285.5,1450.5 300,1450.5" fill="none" stroke="#0000ff" stroke-width="5" stroke-linecap="butt" stroke-linejoin="miter" stroke-miterlimit="2"/>
<polygon points="243.5,1454.0 241,1456.5 243.5,1459.0" fill="#0000ff"/>
<polygon points="299.5,1448.0 302,1450.5 299.5,1453.0" fill="#0000ff"/>
<polyline points="305,1448.5 328.5,1448.5" fill="none" stroke="#0000ff" stroke-width="5" stroke-linecap="butt" stroke-linejoin="miter" stroke-miterlimit="2"/>
<polygon points="305.5,1446.0 303,1448.5 305.5,1451.0" fill="#0000ff"/>
<polygon points="328.0,1446.0 330.5,1448.5 328.0,1451.0" fill="#0000ff"/>
<polyline points="330.5,1448.5 371,1448.5" fill="none" stroke="#0000ff" stroke-width="5" stroke-linecap="butt" stroke-linejoin="miter" stroke-miterlimit="2"/>
<polygon points="331.0,1446.0 328.5,1448.5 331.0,1451.0" fill="#0000ff"/>
<polygon points="370.5,1446.0 373,1448.5 370.5,1451.0" fill="#0000ff"/>
<polyline points="375,1445.5 426,1445.5" fill="none" stroke="#0000ff" stroke-width="5" stroke-linecap="butt" stroke-linejoin="miter" stroke-miterlimit="2"/>
<polygon points="375.5,1443.0 373,1445.5 375.5,1448.0" fill="#0000ff"/>
<polygon points="425.5,1443.0 428,1445.5 425.5,1448.0" fill="#0000ff"/>
<polyline points="430,1442.5 638,1442.5" fill="none" stroke="#0000ff" stroke-width="5" stroke-linecap="butt" stroke-linejoin="miter" stroke-miterlimit="2"/>
<polygon points="430.5,1440.0 428,1442.5 430.5,1445.0" fill="#0000ff"/>
<polygon points="637.5,1440.0 640,1442.5 637.5,1445.0" fill="#0000ff"/>
<polyline points="645,1440.5 688,1440.5" fill="none" stroke="#0000ff" stroke-width="5" stroke-linecap="butt" stroke-linejoin="miter" stroke-miterlimit="2"/>
<polygon points="645.5,1438.0 643,1440.5 645.5,1443.0" fill="#0000ff"/>
<polygon points="687.5,1438.0 690,1440.5 687.5,1443.0" fill="#0000ff"/>
<polyline points="694,1437.5 702,1437.5 704.5,1434.5 781.5,1434.5 784,1431.5 791.5,1431.5" fill="none" stroke="#0000ff" stroke-width="5" stroke-linecap="butt" stroke-linejoin="miter" stroke-miterlimit="2"/>
<polygon points="694.5,1435.0 692,1437.5 694.5,1440.0" fill="#0000ff"/>
<polygon points="791.0,1429.0 793.5,1431.5 791.0,1434.0" fill="#0000ff"/>
<polyline points="797,1429.5 850,1429.5" fill="none" stroke="#0000ff" stroke-width="5" stroke-linecap="butt" stroke-linejoin="miter" stroke-miterlimit="2"/>
<polygon points="797.5,1427.0 795,1429.5 797.5,1432.0" fill="#0000ff"/>
<polygon points="849.5,1427.0 852,1429.5 849.5,1432.0" fill="#0000ff"/>
<polyline points="855,1426.5 863.5,1426.5 865.5,1423.5 1136,1423.5" fill="none" stroke="#0000ff" stroke-width="5" stroke-linecap="butt" stroke-linejoin="miter" stroke-miterlimit="2"/>
<polygon points="855.5,1424.0 853,1426.5 855.5,1429.0" fill="#0000ff"/>
<polygon points="1135.5,1421.0 1138,1423.5 1135.5,1426.0" fill="#0000ff"/>
<g stroke="#000" stroke-width="1" shape-rendering="crispEdges">
<line x1="264.5" y1="401" x2="264.5" y2="411"/>
<line x1="264.5" y1="125" x2="264.5" y2="134"/>
<line x1="363.5" y1="401" x2="363.5" y2="411"/>
<line x1="363.5" y1="125" x2="363.5" y2="134"/>
<line x1="462.5" y1="401" x2="462.5" y2="411"/>
<line x1="462.5" y1="125" x2="462.5" y2="134"/>
<line x1="561.5" y1="401" x2="561.5" y2="411"/>
<line x1="561.5" y1="125" x2="561.5" y2="134"/>
<line x1="660.5" y1="401" x2="660.5" y2="411"/>
<line x1="660.5" y1="125" x2="660.5" y2="134"/>
<line x1="758.5" y1="401" x2="758.5" y2="411"/>
<line x1="758.5" y1="125" x2="758.5" y2="134"/>
<line x1="857.5" y1="401" x2="857.5" y2="411"/>
<line x1="857.5" y1="125" x2="857.5" y2="134"/>
<line x1="956.5" y1="401" x2="956.5" y2="411"/>
<line x1="956.5" y1="125" x2="956.5" y2="134"/>
<line x1="1055.5" y1="401" x2="1055.5" y2="411"/>
<line x1="1055.5" y1="125" x2="1055.5" y2="134"/>
<line x1="166" y1="195.5" x2="176" y2="195.5"/>
<line x1="1144" y1="195.5" x2="1155" y2="195.5"/>
<line x1="166" y1="267.5" x2="176" y2="267.5"/>
<line x1="1144" y1="267.5" x2="1155" y2="267.5"/>
<line x1="166" y1="339.5" x2="176" y2="339.5"/>
<line x1="1144" y1="339.5" x2="1155" y2="339.5"/>
<rect x="166.5" y="124.5" width="988" height="287" fill="none"/>
<line x1="264.5" y1="824" x2="264.5" y2="834"/>
<line x1="264.5" y1="548" x2="264.5" y2="557"/>
<line x1="363.5" y1="824" x2="363.5" y2="834"/>
<line x1="363.5" y1="548" x2="363.5" y2="557"/>
<line x1="462.5" y1="824" x2="462.5" y2="834"/>
<line x1="462.5" y1="548" x2="462.5" y2="557"/>
<line x1="561.5" y1="824" x2="561.5" y2="834"/>
<line x1="561.5" y1="548" x2="561.5" y2="557"/>
<line x1="660.5" y1="824" x2="660.5" y2="834"/>
<line x1="660.5" y1="548" x2="660.5" y2="557"/>
<line x1="758.5" y1="824" x2="758.5" y2="834"/>
<line x1="758.5" y1="548" x2="758.5" y2="557"/>
<line x1="857.5" y1="824" x2="857.5" y2="834"/>
<line x1="857.5" y1="548" x2="857.5" y2="557"/>
<line x1="956.5" y1="824" x2="956.5" y2="834"/>
<line x1="956.5" y1="548" x2="956.5" y2="557"/>
<line x1="1055.5" y1="824" x2="1055.5" y2="834"/>
<line x1="1055.5" y1="548" x2="1055.5" y2="557"/>
<line x1="166" y1="618.5" x2="176" y2="618.5"/>
<line x1="1144" y1="618.5" x2="1155" y2="618.5"/>
<line x1="166" y1="690.5" x2="176" y2="690.5"/>
<line x1="1144" y1="690.5" x2="1155" y2="690.5"/>
<line x1="166" y1="762.5" x2="176" y2="762.5"/>
<line x1="1144" y1="762.5" x2="1155" y2="762.5"/>
<rect x="166.5" y="547.5" width="988" height="287" fill="none"/>
<line x1="264.5" y1="1247" x2="264.5" y2="1257"/>
<line x1="264.5" y1="971" x2="264.5" y2="980"/>
<line x1="363.5" y1="1247" x2="363.5" y2="1257"/>
<line x1="363.5" y1="971" x2="363.5" y2="980"/>
<line x1="462.5" y1="1247" x2="462.5" y2="1257"/>
<line x1="462.5" y1="971" x2="462.5" y2="980"/>
<line x1="561.5" y1="1247" x2="561.5" y2="1257"/>
<line x1="561.5" y1="971" x2="561.5" y2="980"/>
<line x1="660.5" y1="1247" x2="660.5" y2="1257"/>
<line x1="660.5" y1="971" x2="660.5" y2="980"/>
<line x1="758.5" y1="1247" x2="758.5" y2="1257"/>
<line x1="758.5" y1="971" x2="758.5" y2="980"/>
<line x1="857.5" y1="1247" x2="857.5" y2="1257"/>
<line x1="857.5" y1="971" x2="857.5" y2="980"/>
<line x1="956.5" y1="1247" x2="956.5" y2="1257"/>
<line x1="956.5" y1="971" x2="956.5" y2="980"/>
<line x1="1055.5" y1="1247" x2="1055.5" y2="1257"/>
<line x1="1055.5" y1="971" x2="1055.5" y2="980"/>
<line x1="166" y1="1041.5" x2="176" y2="1041.5"/>
<line x1="1144" y1="1041.5" x2="1155" y2="1041.5"/>
<line x1="166" y1="1113.5" x2="176" y2="1113.5"/>
<line x1="1144" y1="1113.5" x2="1155" y2="1113.5"/>
<line x1="166" y1="1185.5" x2="176" y2="1185.5"/>
<line x1="1144" y1="1185.5" x2="1155" y2="1185.5"/>
<rect x="166.5" y="970.5" width="988" height="287" fill="none"/>
<line x1="264.5" y1="1449" x2="264.5" y2="1459"/>
<line x1="264.5" y1="1422" x2="264.5" y2="1431"/>
<line x1="363.5" y1="1449" x2="363.5" y2="1459"/>
<line x1="363.5" y1="1422" x2="363.5" y2="1431"/>
<line x1="462.5" y1="1449" x2="462.5" y2="1459"/>
<line x1="462.5" y1="1422" x2="462.5" y2="1431"/>
<line x1="561.5" y1="1449" x2="561.5" y2="1459"/>
<line x1="561.5" y1="1422" x2="561.5" y2="1431"/>
<line x1="660.5" y1="1449" x2="660.5" y2="1459"/>
<line x1="660.5" y1="1422" x2="660.5" y2="1431"/>
<line x1="758.5" y1="1449" x2="758.5" y2="1459"/>
<line x1="758.5" y1="1422" x2="758.5" y2="1431"/>
<line x1="857.5" y1="1449" x2="857.5" y2="1459"/>
<line x1="857.5" y1="1422" x2="857.5" y2="1431"/>
<line x1="956.5" y1="1449" x2="956.5" y2="1459"/>
<line x1="956.5" y1="1422" x2="956.5" y2="1431"/>
<line x1="1055.5" y1="1449" x2="1055.5" y2="1459"/>
<line x1="1055.5" y1="1422" x2="1055.5" y2="1431"/>
<line x1="165" y1="1431.5" x2="175" y2="1431.5"/>
<line x1="1144" y1="1431.5" x2="1155" y2="1431.5"/>
<line x1="165" y1="1445.5" x2="175" y2="1445.5"/>
<line x1="1144" y1="1445.5" x2="1155" y2="1445.5"/>
<rect x="165.5" y="1421.5" width="989" height="38" fill="none"/>
</g>
<g font-size="18">
<text x="166.5" y="440" text-anchor="middle">21</text>
<text x="264.5" y="440" text-anchor="middle">21.55</text>
<text x="363.5" y="440" text-anchor="middle">22.1</text>
<text x="462.5" y="440" text-anchor="middle">22.65</text>
<text x="561.5" y="440" text-anchor="middle">23.2</text>
<text x="660.5" y="440" text-anchor="middle">23.75</text>
<text x="758.5" y="440" text-anchor="middle">24.3</text>
<text x="857.5" y="440" text-anchor="middle">24.85</text>
<text x="956.5" y="440" text-anchor="middle">25.4</text>
<text x="1055.5" y="440" text-anchor="middle">25.95</text>
<text x="1154.5" y="440" text-anchor="middle">26.5</text>
<text x="159" y="133" text-anchor="end">10</text>
<text x="159" y="204" text-anchor="end">5</text>
<text x="159" y="276" text-anchor="end">0</text>
<text x="159" y="348" text-anchor="end">-5</text>
<text x="159" y="420" text-anchor="end">-10</text>
<text x="341" y="109" textLength="635" lengthAdjust="spacing">sh120914 Mean IMAG Calibrated Radiance 895.00 - 900.00, good segments</text>
<text x="988" y="155" font-size="14.3" style="stroke-width:0">netcdf record ind:</text>
<text x="166.5" y="863" text-anchor="middle">21</text>
<text x="264.5" y="863" text-anchor="middle">21.55</text>
<text x="363.5" y="863" text-anchor="middle">22.1</text>
<text x="462.5" y="863" text-anchor="middle">22.65</text>
<text x="561.5" y="863" text-anchor="middle">23.2</text>
<text x="660.5" y="863" text-anchor="middle">23.75</text>
<text x="758.5" y="863" text-anchor="middle">24.3</text>
<text x="857.5" y="863" text-anchor="middle">24.85</text>
<text x="956.5" y="863" text-anchor="middle">25.4</text>
<text x="1055.5" y="863" text-anchor="middle">25.95</text>
<text x="1154.5" y="863" text-anchor="middle">26.5</text>
<text x="159" y="556" text-anchor="end">10</text>
<text x="159" y="627" text-anchor="end">5</text>
<text x="159" y="699" text-anchor="end">0</text>
<text x="159" y="771" text-anchor="end">-5</text>
<text x="159" y="843" text-anchor="end">-10</text>
<text x="331" y="532" textLength="655" lengthAdjust="spacing">sh120914 Mean IMAG Calibrated Radiance 1093.00 - 1097.00, good segments</text>
<text x="988" y="578" font-size="14.3" style="stroke-width:0">netcdf record ind:</text>
<text x="166.5" y="1286" text-anchor="middle">21</text>
<text x="264.5" y="1286" text-anchor="middle">21.55</text>
<text x="363.5" y="1286" text-anchor="middle">22.1</text>
<text x="462.5" y="1286" text-anchor="middle">22.65</text>
<text x="561.5" y="1286" text-anchor="middle">23.2</text>
<text x="660.5" y="1286" text-anchor="middle">23.75</text>
<text x="758.5" y="1286" text-anchor="middle">24.3</text>
<text x="857.5" y="1286" text-anchor="middle">24.85</text>
<text x="956.5" y="1286" text-anchor="middle">25.4</text>
<text x="1055.5" y="1286" text-anchor="middle">25.95</text>
<text x="1154.5" y="1286" text-anchor="middle">26.5</text>
<text x="159" y="979" text-anchor="end">2.5</text>
<text x="159" y="1050" text-anchor="end">1.25</text>
<text x="159" y="1122" text-anchor="end">0</text>
<text x="159" y="1194" text-anchor="end">-1.25</text>
<text x="159" y="1266" text-anchor="end">-2.5</text>
<text x="331" y="955" textLength="655" lengthAdjust="spacing">sh120914 Mean IMAG Calibrated Radiance 2000.00 - 2025.00, good segments</text>
<text x="988" y="1001" font-size="14.3" style="stroke-width:0">netcdf record ind:</text>
<text x="166.5" y="1488" text-anchor="middle">21</text>
<text x="264.5" y="1488" text-anchor="middle">21.55</text>
<text x="363.5" y="1488" text-anchor="middle">22.1</text>
<text x="462.5" y="1488" text-anchor="middle">22.65</text>
<text x="561.5" y="1488" text-anchor="middle">23.2</text>
<text x="660.5" y="1488" text-anchor="middle">23.75</text>
<text x="758.5" y="1488" text-anchor="middle">24.3</text>
<text x="857.5" y="1488" text-anchor="middle">24.85</text>
<text x="956.5" y="1488" text-anchor="middle">25.4</text>
<text x="1055.5" y="1488" text-anchor="middle">25.95</text>
<text x="1154.5" y="1488" text-anchor="middle">26.5</text>
<text x="159" y="1440" text-anchor="end">10</text>
<text x="159" y="1454" text-anchor="end">5</text>
<text x="159" y="1468" text-anchor="end">0</text>
<text x="611" y="1406" textLength="95" lengthAdjust="spacing" style="stroke-width:0.1px">SEGMENT</text>
<text transform="translate(121,268.5) rotate(-90)" text-anchor="middle" font-size="18.8">mW / (m<tspan font-size="13.5" dy="-10" style="stroke-width:0">2</tspan><tspan dy="10"> sr cm</tspan><tspan font-size="13.5" dy="-10" style="stroke-width:0">-1</tspan><tspan dy="10">)</tspan></text>
<text transform="translate(121,691.5) rotate(-90)" text-anchor="middle" font-size="18.8">mW / (m<tspan font-size="13.5" dy="-10" style="stroke-width:0">2</tspan><tspan dy="10"> sr cm</tspan><tspan font-size="13.5" dy="-10" style="stroke-width:0">-1</tspan><tspan dy="10">)</tspan></text>
<text transform="translate(106,1114.5) rotate(-90)" text-anchor="middle" font-size="18.8">mW / (m<tspan font-size="13.5" dy="-10" style="stroke-width:0">2</tspan><tspan dy="10"> sr cm</tspan><tspan font-size="13.5" dy="-10" style="stroke-width:0">-1</tspan><tspan dy="10">)</tspan></text>
</g>
</svg></body></html>
